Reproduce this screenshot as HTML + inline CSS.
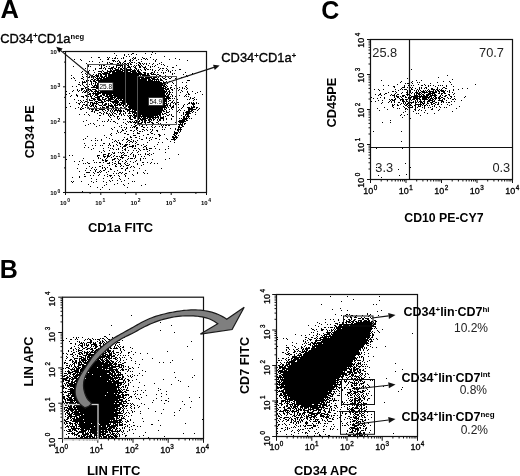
<!DOCTYPE html>
<html><head><meta charset="utf-8"><style>
html,body{margin:0;padding:0;background:#fff;width:520px;height:476px;overflow:hidden}
svg{display:block;font-family:"Liberation Sans", sans-serif;filter:grayscale(1)}
</style></head><body>
<svg width="520" height="476" viewBox="0 0 520 476">
<path d="M152 52.5h1M114 53.5h1M132 53.5h2M145 53.5h1M155 53.5h1M124 54.5h1M128 54.5h1M131 54.5h1M136 54.5h1M151 54.5h1M116 55.5h1M124 55.5h1M126 56.5h1M129 56.5h1M164 56.5h1M91 57.5h1M98 57.5h2M107 57.5h1M109 57.5h1M115 57.5h1M123 57.5h1M133 57.5h1M135 57.5h1M142 57.5h1M150 57.5h1M108 58.5h1M112 58.5h1M114 58.5h2M117 58.5h1M121 58.5h1M123 58.5h1M132 58.5h1M134 58.5h2M143 58.5h2M146 58.5h1M175 58.5h1M74 59.5h1M80 59.5h1M100 59.5h1M107 59.5h2M130 59.5h1M133 59.5h1M138 59.5h1M141 59.5h1M145 59.5h1M147 59.5h1M153 59.5h1M156 59.5h1M169 59.5h1M179 59.5h1M81 60.5h1M112 60.5h3M118 60.5h1M125 60.5h1M129 60.5h2M132 60.5h1M136 60.5h1M155 60.5h1M187 60.5h1M89 61.5h1M92 61.5h1M102 61.5h1M113 61.5h1M115 61.5h1M117 61.5h1M119 61.5h1M124 61.5h2M130 61.5h1M141 61.5h1M155 61.5h1M99 62.5h1M107 62.5h1M109 62.5h1M119 62.5h2M123 62.5h1M129 62.5h1M131 62.5h2M134 62.5h1M138 62.5h2M161 62.5h1M86 63.5h1M107 63.5h1M110 63.5h3M117 63.5h2M120 63.5h1M122 63.5h1M124 63.5h2M127 63.5h2M130 63.5h1M136 63.5h1M139 63.5h2M142 63.5h1M144 63.5h1M146 63.5h1M149 63.5h1M153 63.5h1M159 63.5h1M102 64.5h1M105 64.5h1M109 64.5h1M113 64.5h1M117 64.5h1M124 64.5h1M126 64.5h1M128 64.5h1M130 64.5h2M138 64.5h1M140 64.5h1M143 64.5h1M146 64.5h1M152 64.5h1M157 64.5h1M161 64.5h1M163 64.5h1M88 65.5h1M99 65.5h1M101 65.5h1M103 65.5h2M116 65.5h7M124 65.5h1M127 65.5h2M134 65.5h1M136 65.5h1M138 65.5h2M141 65.5h1M148 65.5h1M155 65.5h1M164 65.5h1M176 65.5h1M73 66.5h1M88 66.5h1M90 66.5h1M101 66.5h1M106 66.5h1M109 66.5h1M113 66.5h1M116 66.5h1M120 66.5h1M122 66.5h1M124 66.5h2M128 66.5h2M131 66.5h1M133 66.5h1M135 66.5h1M139 66.5h2M142 66.5h1M145 66.5h1M150 66.5h1M152 66.5h1M154 66.5h1M167 66.5h1M101 67.5h1M104 67.5h1M111 67.5h3M116 67.5h1M118 67.5h2M122 67.5h1M124 67.5h2M127 67.5h4M134 67.5h2M139 67.5h2M143 67.5h3M150 67.5h1M158 67.5h1M172 67.5h2M85 68.5h1M95 68.5h1M99 68.5h3M103 68.5h1M105 68.5h1M108 68.5h5M114 68.5h2M118 68.5h1M120 68.5h2M123 68.5h4M130 68.5h1M135 68.5h2M144 68.5h1M146 68.5h1M160 68.5h1M162 68.5h2M166 68.5h1M95 69.5h1M105 69.5h1M110 69.5h1M112 69.5h1M115 69.5h4M120 69.5h3M124 69.5h1M126 69.5h6M134 69.5h1M136 69.5h1M138 69.5h1M140 69.5h1M144 69.5h2M147 69.5h2M150 69.5h1M152 69.5h1M159 69.5h1M167 69.5h1M179 69.5h2M411 69.5h1M89 70.5h1M93 70.5h1M102 70.5h1M107 70.5h1M110 70.5h2M113 70.5h8M122 70.5h9M132 70.5h4M137 70.5h2M141 70.5h1M145 70.5h1M152 70.5h1M155 70.5h1M158 70.5h1M162 70.5h1M166 70.5h1M168 70.5h1M172 70.5h1M175 70.5h1M82 71.5h1M88 71.5h1M98 71.5h4M103 71.5h1M107 71.5h8M116 71.5h7M124 71.5h4M130 71.5h6M137 71.5h3M154 71.5h1M168 71.5h1M170 71.5h1M81 72.5h1M87 72.5h2M94 72.5h1M101 72.5h1M104 72.5h4M109 72.5h2M112 72.5h19M132 72.5h5M138 72.5h3M143 72.5h3M151 72.5h2M154 72.5h1M157 72.5h1M161 72.5h1M163 72.5h1M165 72.5h1M170 72.5h1M185 72.5h1M85 73.5h1M98 73.5h3M102 73.5h8M112 73.5h30M144 73.5h2M147 73.5h2M150 73.5h2M153 73.5h1M163 73.5h1M172 73.5h1M174 73.5h1M192 73.5h1M82 74.5h1M86 74.5h1M93 74.5h1M96 74.5h1M98 74.5h1M100 74.5h2M103 74.5h4M108 74.5h38M147 74.5h2M151 74.5h5M157 74.5h2M172 74.5h1M183 74.5h1M71 75.5h1M92 75.5h1M95 75.5h4M100 75.5h2M105 75.5h2M108 75.5h31M140 75.5h1M142 75.5h8M156 75.5h1M159 75.5h2M165 75.5h1M186 75.5h1M447 75.5h1M82 76.5h1M86 76.5h1M89 76.5h1M91 76.5h1M93 76.5h2M96 76.5h3M100 76.5h3M104 76.5h3M108 76.5h36M146 76.5h7M155 76.5h2M159 76.5h3M164 76.5h1M187 76.5h1M73 77.5h1M83 77.5h1M87 77.5h3M91 77.5h1M95 77.5h1M97 77.5h1M99 77.5h1M101 77.5h4M106 77.5h38M145 77.5h7M153 77.5h4M158 77.5h1M162 77.5h1M165 77.5h1M168 77.5h1M171 77.5h1M181 77.5h1M438 77.5h1M71 78.5h1M74 78.5h1M81 78.5h2M93 78.5h1M96 78.5h6M103 78.5h37M141 78.5h9M151 78.5h4M157 78.5h1M160 78.5h1M163 78.5h2M169 78.5h2M175 78.5h2M407 78.5h1M83 79.5h1M87 79.5h1M91 79.5h2M94 79.5h2M97 79.5h2M100 79.5h47M148 79.5h3M152 79.5h7M160 79.5h2M165 79.5h2M452 79.5h1M75 80.5h1M86 80.5h1M88 80.5h1M90 80.5h1M93 80.5h2M96 80.5h51M148 80.5h5M154 80.5h1M156 80.5h1M158 80.5h1M160 80.5h3M176 80.5h1M187 80.5h3M381 80.5h1M409 80.5h1M416 80.5h1M421 80.5h1M82 81.5h1M84 81.5h1M86 81.5h2M90 81.5h2M93 81.5h3M98 81.5h62M163 81.5h1M166 81.5h1M169 81.5h1M401 81.5h1M412 81.5h1M443 81.5h1M449 81.5h1M79 82.5h1M82 82.5h4M91 82.5h1M95 82.5h2M98 82.5h64M163 82.5h3M172 82.5h1M182 82.5h1M186 82.5h1M400 82.5h1M411 82.5h1M417 82.5h1M419 82.5h1M437 82.5h1M450 82.5h1M82 83.5h1M91 83.5h1M93 83.5h1M95 83.5h1M97 83.5h67M167 83.5h1M173 83.5h1M405 83.5h1M407 83.5h2M412 83.5h1M430 83.5h1M78 84.5h2M82 84.5h1M86 84.5h1M89 84.5h1M91 84.5h1M95 84.5h1M97 84.5h66M164 84.5h2M397 84.5h1M418 84.5h1M424 84.5h1M451 84.5h1M475 84.5h1M80 85.5h1M83 85.5h1M92 85.5h1M94 85.5h4M99 85.5h1M101 85.5h64M166 85.5h1M171 85.5h1M175 85.5h1M186 85.5h1M383 85.5h1M388 85.5h1M404 85.5h1M408 85.5h1M411 85.5h1M413 85.5h1M421 85.5h2M425 85.5h1M428 85.5h1M430 85.5h1M433 85.5h1M438 85.5h1M440 85.5h1M442 85.5h1M446 85.5h1M72 86.5h1M76 86.5h1M84 86.5h1M88 86.5h1M93 86.5h2M96 86.5h66M163 86.5h3M167 86.5h1M176 86.5h1M185 86.5h1M393 86.5h2M404 86.5h1M428 86.5h1M435 86.5h1M446 86.5h1M453 86.5h1M85 87.5h2M91 87.5h73M165 87.5h2M170 87.5h2M179 87.5h1M182 87.5h1M186 87.5h1M394 87.5h1M402 87.5h3M407 87.5h1M409 87.5h2M412 87.5h1M419 87.5h1M421 87.5h1M425 87.5h2M437 87.5h1M443 87.5h2M81 88.5h3M85 88.5h1M88 88.5h1M96 88.5h2M99 88.5h67M167 88.5h2M170 88.5h1M174 88.5h1M176 88.5h2M182 88.5h1M184 88.5h1M187 88.5h1M401 88.5h1M411 88.5h1M415 88.5h1M419 88.5h1M421 88.5h1M424 88.5h1M426 88.5h1M431 88.5h2M437 88.5h1M442 88.5h1M445 88.5h2M462 88.5h1M467 88.5h1M77 89.5h1M81 89.5h2M86 89.5h1M88 89.5h3M92 89.5h4M99 89.5h65M165 89.5h4M171 89.5h2M179 89.5h1M186 89.5h1M374 89.5h1M378 89.5h1M383 89.5h1M395 89.5h1M400 89.5h1M402 89.5h1M404 89.5h3M411 89.5h2M417 89.5h1M419 89.5h1M428 89.5h1M431 89.5h4M436 89.5h2M439 89.5h1M441 89.5h1M453 89.5h1M458 89.5h1M73 90.5h1M77 90.5h1M79 90.5h1M81 90.5h1M84 90.5h1M86 90.5h1M88 90.5h1M90 90.5h2M95 90.5h2M99 90.5h1M102 90.5h63M166 90.5h1M169 90.5h1M172 90.5h1M178 90.5h1M181 90.5h1M379 90.5h1M398 90.5h1M407 90.5h1M409 90.5h2M414 90.5h1M416 90.5h1M418 90.5h1M420 90.5h1M423 90.5h1M425 90.5h1M427 90.5h1M429 90.5h1M433 90.5h1M435 90.5h1M437 90.5h2M440 90.5h4M445 90.5h1M449 90.5h1M453 90.5h1M66 91.5h1M72 91.5h1M78 91.5h1M83 91.5h1M85 91.5h3M89 91.5h1M91 91.5h2M94 91.5h5M100 91.5h67M168 91.5h2M182 91.5h1M187 91.5h1M192 91.5h1M200 91.5h1M392 91.5h2M395 91.5h1M407 91.5h1M410 91.5h1M416 91.5h1M418 91.5h1M421 91.5h4M426 91.5h1M428 91.5h6M435 91.5h2M438 91.5h2M441 91.5h4M447 91.5h1M449 91.5h1M82 92.5h1M84 92.5h2M88 92.5h1M93 92.5h1M95 92.5h1M97 92.5h69M167 92.5h1M169 92.5h2M172 92.5h1M176 92.5h1M180 92.5h1M187 92.5h1M197 92.5h1M388 92.5h1M396 92.5h1M402 92.5h1M406 92.5h2M409 92.5h2M412 92.5h1M415 92.5h3M419 92.5h2M422 92.5h6M429 92.5h2M432 92.5h5M439 92.5h1M443 92.5h2M449 92.5h1M452 92.5h1M69 93.5h1M87 93.5h1M89 93.5h2M92 93.5h9M102 93.5h63M166 93.5h2M169 93.5h1M188 93.5h1M195 93.5h1M380 93.5h1M385 93.5h2M395 93.5h1M401 93.5h1M407 93.5h1M409 93.5h1M411 93.5h1M414 93.5h1M416 93.5h4M421 93.5h1M424 93.5h1M428 93.5h7M438 93.5h2M441 93.5h2M444 93.5h2M454 93.5h1M66 94.5h1M76 94.5h1M87 94.5h4M93 94.5h1M95 94.5h4M102 94.5h3M106 94.5h6M113 94.5h52M166 94.5h1M168 94.5h2M171 94.5h1M176 94.5h1M186 94.5h1M188 94.5h2M202 94.5h1M375 94.5h1M379 94.5h2M384 94.5h1M391 94.5h1M394 94.5h1M397 94.5h2M406 94.5h4M414 94.5h1M416 94.5h1M418 94.5h3M422 94.5h2M426 94.5h5M432 94.5h1M434 94.5h2M441 94.5h1M448 94.5h2M453 94.5h1M71 95.5h1M76 95.5h2M85 95.5h2M90 95.5h1M92 95.5h1M95 95.5h3M100 95.5h2M103 95.5h2M106 95.5h2M109 95.5h57M167 95.5h2M172 95.5h1M179 95.5h1M185 95.5h1M378 95.5h1M381 95.5h1M390 95.5h1M392 95.5h3M396 95.5h1M402 95.5h3M407 95.5h1M409 95.5h2M414 95.5h4M419 95.5h1M421 95.5h1M423 95.5h2M426 95.5h3M430 95.5h7M440 95.5h1M442 95.5h1M445 95.5h2M449 95.5h1M70 96.5h1M77 96.5h1M81 96.5h3M86 96.5h1M88 96.5h1M90 96.5h2M94 96.5h1M97 96.5h5M105 96.5h8M114 96.5h55M170 96.5h1M172 96.5h1M175 96.5h1M184 96.5h1M186 96.5h1M188 96.5h1M394 96.5h1M396 96.5h3M400 96.5h1M402 96.5h2M405 96.5h1M409 96.5h1M411 96.5h17M429 96.5h3M434 96.5h2M439 96.5h2M444 96.5h2M450 96.5h2M454 96.5h1M465 96.5h1M83 97.5h1M91 97.5h1M95 97.5h5M102 97.5h2M107 97.5h2M110 97.5h6M117 97.5h48M166 97.5h4M190 97.5h1M194 97.5h1M371 97.5h1M380 97.5h1M384 97.5h1M394 97.5h1M397 97.5h2M401 97.5h1M405 97.5h2M408 97.5h1M410 97.5h2M413 97.5h5M419 97.5h2M422 97.5h8M431 97.5h1M433 97.5h1M435 97.5h2M438 97.5h2M441 97.5h2M447 97.5h1M451 97.5h1M464 97.5h1M91 98.5h4M97 98.5h3M102 98.5h1M105 98.5h2M108 98.5h5M114 98.5h1M116 98.5h55M172 98.5h1M174 98.5h1M190 98.5h1M192 98.5h2M373 98.5h1M377 98.5h1M384 98.5h1M395 98.5h1M399 98.5h1M402 98.5h1M408 98.5h3M413 98.5h7M422 98.5h5M428 98.5h1M430 98.5h3M434 98.5h3M438 98.5h3M443 98.5h2M448 98.5h1M450 98.5h1M454 98.5h1M74 99.5h1M86 99.5h1M89 99.5h1M93 99.5h3M97 99.5h4M102 99.5h4M108 99.5h6M115 99.5h2M118 99.5h1M120 99.5h2M123 99.5h44M168 99.5h1M177 99.5h1M187 99.5h1M189 99.5h1M194 99.5h1M196 99.5h1M389 99.5h1M391 99.5h2M394 99.5h2M400 99.5h4M405 99.5h3M410 99.5h1M412 99.5h3M416 99.5h2M419 99.5h2M422 99.5h6M429 99.5h2M432 99.5h2M435 99.5h1M439 99.5h1M442 99.5h1M444 99.5h1M452 99.5h2M455 99.5h1M78 100.5h1M80 100.5h1M83 100.5h1M89 100.5h4M94 100.5h1M98 100.5h4M104 100.5h1M106 100.5h5M114 100.5h4M119 100.5h48M169 100.5h2M173 100.5h1M193 100.5h1M378 100.5h1M382 100.5h1M390 100.5h1M392 100.5h3M400 100.5h1M402 100.5h2M406 100.5h1M411 100.5h1M415 100.5h1M417 100.5h1M420 100.5h1M424 100.5h1M428 100.5h5M434 100.5h1M438 100.5h5M446 100.5h1M461 100.5h1M81 101.5h1M85 101.5h2M95 101.5h3M101 101.5h2M104 101.5h2M108 101.5h1M110 101.5h9M122 101.5h45M168 101.5h1M172 101.5h1M176 101.5h1M371 101.5h1M375 101.5h1M389 101.5h1M391 101.5h1M394 101.5h1M402 101.5h3M406 101.5h2M409 101.5h1M413 101.5h1M415 101.5h1M417 101.5h1M419 101.5h3M423 101.5h2M427 101.5h3M432 101.5h3M441 101.5h3M451 101.5h1M454 101.5h1M76 102.5h1M80 102.5h1M82 102.5h1M84 102.5h1M88 102.5h1M90 102.5h3M94 102.5h1M96 102.5h1M98 102.5h6M112 102.5h7M120 102.5h45M166 102.5h1M171 102.5h2M174 102.5h1M177 102.5h2M189 102.5h1M191 102.5h1M193 102.5h1M196 102.5h1M382 102.5h1M388 102.5h1M391 102.5h1M394 102.5h1M398 102.5h2M403 102.5h1M405 102.5h1M408 102.5h6M415 102.5h2M418 102.5h1M420 102.5h3M424 102.5h1M427 102.5h1M430 102.5h3M435 102.5h2M438 102.5h1M441 102.5h1M443 102.5h1M446 102.5h1M448 102.5h2M69 103.5h1M78 103.5h2M90 103.5h1M92 103.5h6M102 103.5h1M105 103.5h2M108 103.5h1M110 103.5h1M113 103.5h1M115 103.5h3M119 103.5h1M121 103.5h5M127 103.5h40M168 103.5h1M170 103.5h1M173 103.5h1M175 103.5h1M188 103.5h2M191 103.5h4M196 103.5h1M198 103.5h1M381 103.5h1M401 103.5h1M403 103.5h1M405 103.5h1M407 103.5h3M411 103.5h1M415 103.5h1M420 103.5h1M422 103.5h3M427 103.5h2M431 103.5h1M433 103.5h2M438 103.5h1M79 104.5h1M83 104.5h2M86 104.5h1M90 104.5h1M92 104.5h2M96 104.5h1M98 104.5h1M102 104.5h1M104 104.5h3M108 104.5h1M111 104.5h1M114 104.5h2M117 104.5h5M123 104.5h2M127 104.5h38M166 104.5h2M170 104.5h1M175 104.5h1M178 104.5h1M184 104.5h1M187 104.5h1M192 104.5h3M392 104.5h1M394 104.5h1M397 104.5h1M400 104.5h1M404 104.5h1M406 104.5h2M409 104.5h2M415 104.5h7M423 104.5h1M426 104.5h1M431 104.5h2M435 104.5h1M437 104.5h2M441 104.5h1M447 104.5h1M451 104.5h1M82 105.5h1M85 105.5h3M89 105.5h1M91 105.5h3M95 105.5h1M99 105.5h3M103 105.5h3M108 105.5h5M114 105.5h4M119 105.5h2M122 105.5h2M125 105.5h3M129 105.5h39M169 105.5h2M173 105.5h1M183 105.5h1M193 105.5h1M392 105.5h2M397 105.5h2M405 105.5h2M408 105.5h1M410 105.5h2M414 105.5h2M418 105.5h1M420 105.5h1M422 105.5h1M424 105.5h2M427 105.5h1M429 105.5h1M434 105.5h1M449 105.5h1M70 106.5h1M82 106.5h1M90 106.5h2M93 106.5h1M95 106.5h2M102 106.5h1M106 106.5h3M110 106.5h4M115 106.5h1M123 106.5h1M125 106.5h2M128 106.5h38M167 106.5h1M170 106.5h1M172 106.5h2M183 106.5h1M191 106.5h1M193 106.5h2M392 106.5h1M403 106.5h1M407 106.5h1M412 106.5h1M415 106.5h1M418 106.5h3M424 106.5h1M432 106.5h1M434 106.5h1M439 106.5h1M459 106.5h1M66 107.5h1M78 107.5h1M81 107.5h1M85 107.5h1M87 107.5h2M94 107.5h1M96 107.5h1M100 107.5h1M102 107.5h3M106 107.5h3M112 107.5h2M115 107.5h3M120 107.5h2M124 107.5h1M128 107.5h39M168 107.5h1M171 107.5h3M178 107.5h1M182 107.5h1M187 107.5h3M191 107.5h4M196 107.5h2M384 107.5h1M393 107.5h1M404 107.5h1M408 107.5h1M410 107.5h3M415 107.5h1M417 107.5h1M422 107.5h1M424 107.5h1M428 107.5h1M430 107.5h1M436 107.5h1M440 107.5h1M444 107.5h1M446 107.5h1M75 108.5h1M80 108.5h1M82 108.5h2M89 108.5h1M93 108.5h1M95 108.5h1M97 108.5h3M101 108.5h3M105 108.5h1M111 108.5h2M115 108.5h1M119 108.5h2M124 108.5h3M129 108.5h34M164 108.5h1M166 108.5h1M171 108.5h1M181 108.5h1M188 108.5h5M196 108.5h1M199 108.5h1M377 108.5h1M397 108.5h1M399 108.5h1M405 108.5h2M415 108.5h1M424 108.5h1M432 108.5h1M456 108.5h1M80 109.5h2M89 109.5h1M91 109.5h3M95 109.5h2M99 109.5h6M107 109.5h2M111 109.5h1M113 109.5h1M115 109.5h2M118 109.5h1M120 109.5h1M125 109.5h6M132 109.5h31M164 109.5h2M169 109.5h1M172 109.5h1M179 109.5h1M188 109.5h8M198 109.5h1M387 109.5h1M405 109.5h1M407 109.5h1M409 109.5h1M414 109.5h2M419 109.5h1M431 109.5h2M439 109.5h1M92 110.5h1M95 110.5h4M102 110.5h1M105 110.5h1M108 110.5h1M110 110.5h1M112 110.5h1M114 110.5h8M123 110.5h1M127 110.5h3M132 110.5h1M134 110.5h30M166 110.5h1M178 110.5h1M180 110.5h1M184 110.5h1M188 110.5h2M191 110.5h2M197 110.5h1M379 110.5h1M415 110.5h1M418 110.5h1M421 110.5h1M425 110.5h1M438 110.5h1M91 111.5h2M94 111.5h1M103 111.5h1M107 111.5h1M110 111.5h1M112 111.5h1M114 111.5h1M117 111.5h1M119 111.5h3M123 111.5h2M127 111.5h1M129 111.5h7M137 111.5h25M163 111.5h2M166 111.5h1M169 111.5h1M177 111.5h1M186 111.5h6M193 111.5h1M405 111.5h1M413 111.5h1M452 111.5h1M86 112.5h1M94 112.5h1M99 112.5h2M104 112.5h1M106 112.5h1M111 112.5h1M113 112.5h1M117 112.5h1M120 112.5h1M125 112.5h1M129 112.5h1M132 112.5h30M166 112.5h3M179 112.5h1M183 112.5h1M185 112.5h5M192 112.5h1M195 112.5h1M403 112.5h1M424 112.5h1M97 113.5h1M101 113.5h1M103 113.5h1M106 113.5h2M109 113.5h1M112 113.5h1M114 113.5h2M119 113.5h2M123 113.5h1M125 113.5h1M128 113.5h3M132 113.5h1M134 113.5h27M162 113.5h1M164 113.5h2M183 113.5h1M186 113.5h5M416 113.5h1M418 113.5h1M427 113.5h1M434 113.5h1M79 114.5h1M84 114.5h1M88 114.5h1M103 114.5h1M108 114.5h1M110 114.5h1M112 114.5h1M116 114.5h1M119 114.5h1M121 114.5h1M123 114.5h1M133 114.5h2M136 114.5h25M162 114.5h2M166 114.5h1M169 114.5h1M171 114.5h1M183 114.5h1M185 114.5h4M195 114.5h1M401 114.5h1M407 114.5h1M89 115.5h1M99 115.5h2M108 115.5h1M110 115.5h2M113 115.5h1M121 115.5h1M124 115.5h1M127 115.5h1M129 115.5h3M133 115.5h8M142 115.5h16M159 115.5h2M167 115.5h2M171 115.5h1M181 115.5h1M185 115.5h1M187 115.5h2M400 115.5h1M404 115.5h1M420 115.5h1M109 116.5h1M114 116.5h1M117 116.5h2M128 116.5h1M130 116.5h1M132 116.5h1M134 116.5h3M138 116.5h16M155 116.5h1M157 116.5h2M160 116.5h1M163 116.5h1M165 116.5h1M172 116.5h2M183 116.5h2M186 116.5h4M110 117.5h1M117 117.5h1M129 117.5h2M133 117.5h3M137 117.5h3M141 117.5h1M143 117.5h3M147 117.5h12M160 117.5h4M183 117.5h2M186 117.5h1M188 117.5h1M402 117.5h1M99 118.5h1M117 118.5h1M119 118.5h1M129 118.5h2M134 118.5h2M137 118.5h4M142 118.5h6M149 118.5h2M152 118.5h2M155 118.5h1M158 118.5h1M160 118.5h4M166 118.5h1M171 118.5h1M179 118.5h1M181 118.5h1M183 118.5h5M189 118.5h1M191 118.5h1M410 118.5h1M108 119.5h1M111 119.5h1M118 119.5h1M123 119.5h1M125 119.5h1M130 119.5h3M137 119.5h2M140 119.5h6M148 119.5h4M153 119.5h2M157 119.5h1M159 119.5h2M163 119.5h1M166 119.5h1M171 119.5h1M182 119.5h5M86 120.5h1M97 120.5h1M108 120.5h1M135 120.5h3M139 120.5h1M141 120.5h2M144 120.5h3M148 120.5h2M151 120.5h1M153 120.5h1M157 120.5h1M159 120.5h2M163 120.5h1M179 120.5h6M186 120.5h2M390 120.5h1M83 121.5h1M102 121.5h1M104 121.5h1M107 121.5h1M110 121.5h1M113 121.5h2M127 121.5h1M129 121.5h2M132 121.5h1M134 121.5h1M136 121.5h4M142 121.5h1M144 121.5h2M149 121.5h2M158 121.5h1M176 121.5h1M178 121.5h8M115 122.5h1M123 122.5h1M128 122.5h1M130 122.5h2M133 122.5h6M141 122.5h2M144 122.5h2M147 122.5h3M151 122.5h2M156 122.5h2M166 122.5h1M175 122.5h1M179 122.5h5M382 122.5h1M390 122.5h1M90 123.5h1M93 123.5h1M117 123.5h1M125 123.5h1M135 123.5h1M137 123.5h5M145 123.5h1M152 123.5h2M158 123.5h1M160 123.5h1M180 123.5h1M182 123.5h1M184 123.5h2M88 124.5h1M94 124.5h1M126 124.5h1M134 124.5h1M137 124.5h2M147 124.5h3M152 124.5h1M155 124.5h1M163 124.5h1M165 124.5h1M178 124.5h5M184 124.5h1M85 125.5h1M99 125.5h1M103 125.5h1M121 125.5h1M131 125.5h1M135 125.5h2M139 125.5h1M142 125.5h1M146 125.5h1M152 125.5h1M161 125.5h1M163 125.5h1M165 125.5h2M168 125.5h2M179 125.5h1M181 125.5h2M409 125.5h1M96 126.5h1M119 126.5h1M133 126.5h3M141 126.5h2M151 126.5h1M155 126.5h1M159 126.5h1M162 126.5h1M178 126.5h2M182 126.5h2M114 127.5h1M121 127.5h1M124 127.5h1M126 127.5h1M130 127.5h1M132 127.5h1M134 127.5h1M136 127.5h2M143 127.5h2M147 127.5h1M152 127.5h1M154 127.5h1M162 127.5h1M165 127.5h1M178 127.5h4M111 128.5h1M126 128.5h1M136 128.5h2M170 128.5h1M175 128.5h1M178 128.5h1M180 128.5h1M112 129.5h1M122 129.5h1M125 129.5h1M136 129.5h1M142 129.5h2M146 129.5h1M150 129.5h1M152 129.5h1M162 129.5h1M164 129.5h1M175 129.5h1M177 129.5h5M117 130.5h1M122 130.5h2M130 130.5h2M134 130.5h1M137 130.5h1M144 130.5h1M147 130.5h1M152 130.5h1M156 130.5h2M177 130.5h2M180 130.5h1M117 131.5h1M121 131.5h1M126 131.5h1M133 131.5h1M139 131.5h2M142 131.5h1M151 131.5h1M157 131.5h1M174 131.5h1M178 131.5h1M180 131.5h1M373 131.5h1M401 131.5h1M118 132.5h1M120 132.5h1M137 132.5h1M150 132.5h1M174 132.5h4M179 132.5h1M111 133.5h1M116 133.5h1M124 133.5h2M133 133.5h1M137 133.5h3M151 133.5h2M174 133.5h4M110 134.5h1M127 134.5h2M147 134.5h2M154 134.5h1M158 134.5h2M164 134.5h1M173 134.5h2M176 134.5h1M104 135.5h1M111 135.5h1M133 135.5h3M143 135.5h1M159 135.5h2M174 135.5h2M178 135.5h1M87 136.5h1M130 136.5h1M139 136.5h1M159 136.5h1M172 136.5h2M175 136.5h2M106 137.5h1M124 137.5h1M130 137.5h2M135 137.5h2M146 137.5h1M150 137.5h1M152 137.5h1M172 137.5h6M85 138.5h1M95 138.5h1M109 138.5h1M127 138.5h1M139 138.5h1M146 138.5h1M149 138.5h1M155 138.5h2M166 138.5h1M173 138.5h2M176 138.5h1M83 139.5h1M101 139.5h1M112 139.5h1M123 139.5h1M126 139.5h2M131 139.5h1M141 139.5h2M151 139.5h1M159 139.5h1M167 139.5h1M171 139.5h5M91 140.5h1M95 140.5h1M97 140.5h1M101 140.5h1M115 140.5h1M118 140.5h1M122 140.5h1M128 140.5h2M133 140.5h1M137 140.5h1M149 140.5h1M174 140.5h1M114 141.5h1M116 141.5h1M127 141.5h1M130 141.5h2M133 141.5h1M135 141.5h1M170 141.5h1M401 141.5h1M112 142.5h1M117 142.5h1M119 142.5h1M126 142.5h1M129 142.5h1M132 142.5h1M136 142.5h1M147 142.5h1M158 142.5h1M162 142.5h1M174 142.5h1M84 143.5h1M95 143.5h1M103 143.5h2M109 143.5h1M119 143.5h2M135 143.5h1M109 144.5h1M116 144.5h1M120 144.5h1M122 144.5h1M125 144.5h3M129 144.5h1M137 144.5h2M143 144.5h1M157 144.5h1M85 145.5h1M92 145.5h1M95 145.5h1M100 145.5h1M102 145.5h1M108 145.5h1M110 145.5h1M113 145.5h1M117 145.5h1M124 145.5h3M132 145.5h2M135 145.5h1M141 145.5h1M146 145.5h1M113 146.5h1M120 146.5h1M123 146.5h3M129 146.5h5M135 146.5h1M144 146.5h2M154 146.5h1M168 146.5h1M84 147.5h1M88 147.5h1M108 147.5h1M122 147.5h1M127 147.5h1M132 147.5h1M143 147.5h1M146 147.5h1M391 147.5h1M93 148.5h1M103 148.5h1M110 148.5h1M112 148.5h1M118 148.5h1M122 148.5h1M125 148.5h1M134 148.5h2M138 148.5h1M146 148.5h1M149 148.5h3M155 148.5h1M168 148.5h1M376 148.5h1M402 148.5h1M91 149.5h1M113 149.5h1M116 149.5h1M118 149.5h1M124 149.5h2M139 149.5h1M143 149.5h2M146 149.5h2M159 149.5h1M165 149.5h1M103 150.5h1M109 150.5h1M122 150.5h1M125 150.5h1M128 150.5h1M133 150.5h1M136 150.5h1M140 150.5h1M149 150.5h1M99 151.5h1M104 151.5h1M138 151.5h1M147 151.5h1M101 152.5h1M112 152.5h1M114 152.5h1M118 152.5h1M120 152.5h1M122 152.5h2M127 152.5h1M132 152.5h1M137 152.5h1M165 152.5h1M108 153.5h2M113 153.5h2M121 153.5h1M124 153.5h1M131 153.5h1M145 153.5h1M149 153.5h1M153 153.5h1M103 154.5h3M108 154.5h1M111 154.5h1M123 154.5h1M130 154.5h1M133 154.5h1M138 154.5h1M140 154.5h1M145 154.5h1M147 154.5h2M151 154.5h1M178 154.5h1M69 155.5h1M72 155.5h1M97 155.5h3M103 155.5h1M107 155.5h2M110 155.5h1M114 155.5h1M121 155.5h2M124 155.5h3M133 155.5h1M135 155.5h1M149 155.5h1M97 156.5h1M103 156.5h3M107 156.5h3M113 156.5h1M116 156.5h2M119 156.5h1M121 156.5h1M128 156.5h1M133 156.5h1M135 156.5h1M141 156.5h1M144 156.5h1M98 157.5h1M104 157.5h1M107 157.5h1M111 157.5h1M120 157.5h4M135 157.5h1M83 158.5h1M98 158.5h1M100 158.5h1M106 158.5h1M114 158.5h2M117 158.5h1M122 158.5h1M128 158.5h1M130 158.5h3M134 158.5h1M140 158.5h1M143 158.5h1M145 158.5h1M169 158.5h1M66 159.5h1M102 159.5h1M105 159.5h1M112 159.5h3M118 159.5h1M120 159.5h1M127 159.5h1M140 159.5h1M152 159.5h1M165 159.5h1M82 160.5h1M93 160.5h1M102 160.5h2M105 160.5h3M112 160.5h1M119 160.5h1M125 160.5h1M136 160.5h1M140 160.5h1M74 161.5h1M79 161.5h1M105 161.5h2M115 161.5h1M118 161.5h1M122 161.5h1M126 161.5h1M130 161.5h1M135 161.5h1M87 162.5h1M94 162.5h1M96 162.5h1M99 162.5h2M103 162.5h1M109 162.5h1M112 162.5h1M118 162.5h1M125 162.5h1M133 162.5h1M142 162.5h2M147 162.5h1M151 162.5h1M83 163.5h1M85 163.5h1M88 163.5h2M107 163.5h3M114 163.5h2M118 163.5h3M124 163.5h1M127 163.5h1M137 163.5h1M150 163.5h1M154 163.5h1M157 163.5h1M405 163.5h1M78 164.5h1M112 164.5h1M116 164.5h1M120 164.5h1M125 164.5h1M129 164.5h1M137 164.5h1M143 164.5h1M102 165.5h1M109 165.5h1M115 165.5h1M121 165.5h1M126 165.5h3M141 165.5h1M89 166.5h1M99 166.5h2M115 166.5h2M120 166.5h1M123 166.5h1M131 166.5h1M133 166.5h1M92 167.5h1M95 167.5h1M102 167.5h1M104 167.5h1M107 167.5h1M127 167.5h1M130 167.5h1M134 167.5h1M376 167.5h1M410 167.5h1M77 168.5h1M86 168.5h1M91 168.5h1M102 168.5h1M105 168.5h1M110 168.5h1M121 168.5h2M126 168.5h2M139 168.5h1M161 168.5h1M94 169.5h1M96 169.5h1M105 169.5h1M110 169.5h2M125 169.5h1M398 169.5h1M85 170.5h1M90 170.5h1M95 170.5h1M100 170.5h1M103 170.5h2M117 170.5h1M125 170.5h1M133 170.5h1M145 170.5h1M79 171.5h1M95 171.5h1M99 171.5h1M101 171.5h1M108 171.5h1M114 171.5h1M129 171.5h1M86 172.5h4M93 172.5h1M97 172.5h2M100 172.5h1M106 172.5h1M119 172.5h2M122 172.5h1M137 172.5h1M143 172.5h1M94 173.5h1M113 173.5h1M116 173.5h1M118 173.5h1M121 173.5h1M125 173.5h2M137 173.5h1M144 173.5h1M147 173.5h1M84 174.5h1M99 174.5h1M107 174.5h1M124 174.5h1M132 174.5h1M406 174.5h1M90 175.5h1M93 175.5h1M98 175.5h1M104 175.5h1M109 175.5h3M114 175.5h1M118 175.5h1M125 175.5h1M133 175.5h1M378 175.5h1M399 175.5h1M79 176.5h1M84 176.5h2M107 176.5h1M110 176.5h1M119 176.5h1M125 176.5h1M72 177.5h1M79 177.5h1M112 177.5h1M381 177.5h1M91 178.5h1M103 178.5h1M111 178.5h1M119 178.5h1M128 178.5h1M96 179.5h1M120 179.5h1M109 180.5h1M112 180.5h1M117 180.5h1M124 180.5h1M71 181.5h1M73 181.5h1M81 181.5h1M91 181.5h1M96 181.5h1M103 181.5h1M110 181.5h1M121 181.5h1M132 181.5h1M134 181.5h1M72 182.5h1M93 182.5h1M106 182.5h1M117 183.5h1M128 183.5h1M88 184.5h1M106 184.5h1M114 184.5h1M123 184.5h1M145 184.5h1M104 185.5h1M124 185.5h1M141 185.5h1M90 186.5h1M97 187.5h1M102 187.5h1M127 187.5h1M100 189.5h1M109 189.5h1M82 191.5h1M330 296.5h1M347 296.5h1M379 296.5h1M353 299.5h1M379 300.5h1M341 301.5h1M321 304.5h1M373 304.5h1M376 304.5h1M340 308.5h1M332 309.5h1M341 310.5h1M347 310.5h1M381 310.5h1M377 311.5h1M171 312.5h1M367 313.5h1M335 314.5h1M346 314.5h2M349 314.5h1M367 314.5h1M370 314.5h1M131 315.5h1M341 315.5h1M345 315.5h1M351 315.5h2M356 315.5h1M362 315.5h1M369 315.5h1M378 315.5h1M346 316.5h1M350 316.5h1M355 316.5h1M368 316.5h1M347 317.5h1M350 317.5h2M354 317.5h3M361 317.5h1M364 317.5h1M370 317.5h1M376 317.5h1M351 318.5h1M358 318.5h3M362 318.5h2M365 318.5h4M371 318.5h1M325 319.5h1M330 319.5h1M333 319.5h1M338 319.5h1M344 319.5h1M348 319.5h2M351 319.5h1M354 319.5h2M362 319.5h2M367 319.5h2M338 320.5h1M346 320.5h1M349 320.5h2M353 320.5h2M358 320.5h4M364 320.5h3M368 320.5h2M374 320.5h2M334 321.5h1M346 321.5h4M351 321.5h3M355 321.5h2M358 321.5h1M360 321.5h2M363 321.5h7M371 321.5h2M375 321.5h2M160 322.5h1M317 322.5h1M325 322.5h1M339 322.5h1M342 322.5h1M345 322.5h2M348 322.5h3M352 322.5h2M356 322.5h16M373 322.5h1M375 322.5h1M319 323.5h1M335 323.5h3M342 323.5h2M346 323.5h1M351 323.5h2M354 323.5h19M374 323.5h2M321 324.5h1M327 324.5h1M330 324.5h1M337 324.5h1M339 324.5h33M373 324.5h3M111 325.5h1M171 325.5h1M308 325.5h1M315 325.5h1M334 325.5h2M339 325.5h3M343 325.5h6M350 325.5h24M318 326.5h1M335 326.5h2M338 326.5h38M324 327.5h2M328 327.5h1M330 327.5h3M334 327.5h1M336 327.5h36M375 327.5h1M311 328.5h1M321 328.5h1M334 328.5h1M336 328.5h5M342 328.5h31M374 328.5h1M376 328.5h1M312 329.5h2M316 329.5h1M321 329.5h3M326 329.5h1M331 329.5h1M333 329.5h1M335 329.5h1M337 329.5h35M382 329.5h1M160 330.5h1M314 330.5h1M321 330.5h2M327 330.5h1M329 330.5h1M331 330.5h2M334 330.5h1M336 330.5h35M377 330.5h1M317 331.5h1M327 331.5h1M331 331.5h1M334 331.5h37M372 331.5h1M378 331.5h1M174 332.5h1M311 332.5h1M313 332.5h1M326 332.5h5M332 332.5h38M371 332.5h1M374 332.5h1M379 332.5h1M317 333.5h1M323 333.5h1M327 333.5h3M331 333.5h1M333 333.5h38M372 333.5h1M412 333.5h1M109 334.5h1M295 334.5h1M309 334.5h1M317 334.5h1M319 334.5h1M324 334.5h6M331 334.5h39M372 334.5h2M301 335.5h1M305 335.5h1M313 335.5h1M316 335.5h1M321 335.5h1M323 335.5h2M326 335.5h1M329 335.5h2M332 335.5h39M372 335.5h2M104 336.5h2M317 336.5h1M322 336.5h1M324 336.5h46M372 336.5h1M73 337.5h1M76 337.5h1M78 337.5h1M82 337.5h1M106 337.5h1M112 337.5h1M124 337.5h1M277 337.5h1M305 337.5h2M311 337.5h2M316 337.5h1M320 337.5h7M328 337.5h1M330 337.5h40M371 337.5h2M66 338.5h1M76 338.5h1M88 338.5h1M92 338.5h1M100 338.5h1M102 338.5h2M107 338.5h1M283 338.5h1M286 338.5h1M308 338.5h1M314 338.5h2M317 338.5h1M319 338.5h2M323 338.5h43M367 338.5h2M370 338.5h1M376 338.5h1M70 339.5h2M75 339.5h1M77 339.5h1M85 339.5h1M87 339.5h1M89 339.5h2M93 339.5h1M95 339.5h1M97 339.5h3M104 339.5h1M108 339.5h2M111 339.5h2M114 339.5h2M117 339.5h1M277 339.5h1M287 339.5h1M305 339.5h1M309 339.5h3M316 339.5h1M320 339.5h48M369 339.5h3M373 339.5h1M377 339.5h1M63 340.5h1M84 340.5h1M90 340.5h2M99 340.5h1M102 340.5h1M105 340.5h1M115 340.5h1M119 340.5h1M122 340.5h1M303 340.5h1M307 340.5h1M310 340.5h1M315 340.5h6M322 340.5h47M371 340.5h1M69 341.5h1M77 341.5h1M79 341.5h1M90 341.5h2M97 341.5h1M100 341.5h1M102 341.5h2M106 341.5h1M111 341.5h1M113 341.5h1M116 341.5h1M191 341.5h1M303 341.5h1M305 341.5h1M315 341.5h2M321 341.5h46M368 341.5h1M370 341.5h3M79 342.5h1M81 342.5h1M83 342.5h1M87 342.5h5M93 342.5h1M95 342.5h1M99 342.5h2M102 342.5h1M104 342.5h1M109 342.5h2M112 342.5h3M117 342.5h3M292 342.5h1M305 342.5h1M308 342.5h1M311 342.5h2M314 342.5h2M317 342.5h51M370 342.5h1M70 343.5h2M75 343.5h1M80 343.5h3M84 343.5h1M86 343.5h1M90 343.5h1M93 343.5h3M99 343.5h3M103 343.5h1M105 343.5h1M108 343.5h1M116 343.5h1M296 343.5h1M304 343.5h1M306 343.5h1M310 343.5h1M312 343.5h10M323 343.5h46M75 344.5h1M79 344.5h1M82 344.5h1M84 344.5h1M86 344.5h1M88 344.5h1M91 344.5h6M100 344.5h1M103 344.5h1M108 344.5h1M111 344.5h1M115 344.5h1M119 344.5h1M302 344.5h1M308 344.5h3M313 344.5h2M316 344.5h1M318 344.5h47M366 344.5h1M370 344.5h1M78 345.5h1M80 345.5h3M84 345.5h1M86 345.5h3M91 345.5h1M94 345.5h3M99 345.5h2M103 345.5h1M105 345.5h1M110 345.5h1M115 345.5h1M117 345.5h1M286 345.5h1M292 345.5h1M305 345.5h1M310 345.5h1M312 345.5h1M314 345.5h50M367 345.5h2M74 346.5h1M81 346.5h2M87 346.5h1M91 346.5h1M93 346.5h1M95 346.5h3M100 346.5h3M104 346.5h1M106 346.5h1M114 346.5h1M118 346.5h1M120 346.5h1M123 346.5h1M187 346.5h1M277 346.5h1M294 346.5h1M301 346.5h1M304 346.5h1M312 346.5h52M370 346.5h1M385 346.5h1M71 347.5h1M78 347.5h1M82 347.5h1M85 347.5h2M90 347.5h1M95 347.5h2M100 347.5h1M103 347.5h2M107 347.5h1M109 347.5h2M114 347.5h1M116 347.5h1M119 347.5h1M122 347.5h2M130 347.5h1M286 347.5h3M295 347.5h1M301 347.5h2M306 347.5h1M308 347.5h2M312 347.5h3M316 347.5h47M364 347.5h1M366 347.5h1M372 347.5h1M376 347.5h1M70 348.5h2M75 348.5h1M79 348.5h1M83 348.5h2M87 348.5h3M91 348.5h2M94 348.5h2M98 348.5h1M100 348.5h3M105 348.5h1M108 348.5h1M110 348.5h2M113 348.5h5M120 348.5h1M132 348.5h1M288 348.5h1M298 348.5h1M301 348.5h1M303 348.5h1M305 348.5h5M311 348.5h50M362 348.5h1M364 348.5h1M366 348.5h1M73 349.5h1M76 349.5h1M78 349.5h1M82 349.5h1M86 349.5h2M90 349.5h3M96 349.5h3M100 349.5h2M104 349.5h5M120 349.5h1M123 349.5h1M286 349.5h1M289 349.5h1M293 349.5h1M296 349.5h2M302 349.5h2M305 349.5h3M311 349.5h50M363 349.5h1M368 349.5h1M68 350.5h1M73 350.5h1M78 350.5h4M92 350.5h2M95 350.5h3M100 350.5h3M104 350.5h2M107 350.5h4M113 350.5h1M120 350.5h1M124 350.5h1M286 350.5h1M294 350.5h1M298 350.5h1M302 350.5h1M304 350.5h1M306 350.5h2M309 350.5h50M360 350.5h1M363 350.5h1M367 350.5h1M68 351.5h1M71 351.5h1M76 351.5h1M78 351.5h1M82 351.5h1M84 351.5h1M87 351.5h1M89 351.5h1M91 351.5h2M94 351.5h2M97 351.5h6M105 351.5h1M107 351.5h4M112 351.5h2M121 351.5h1M131 351.5h1M167 351.5h1M288 351.5h1M294 351.5h2M297 351.5h1M299 351.5h2M302 351.5h5M308 351.5h51M73 352.5h2M79 352.5h3M84 352.5h5M90 352.5h13M105 352.5h2M108 352.5h2M111 352.5h1M113 352.5h1M116 352.5h3M121 352.5h1M128 352.5h2M135 352.5h1M282 352.5h2M287 352.5h1M293 352.5h2M301 352.5h3M305 352.5h55M361 352.5h1M364 352.5h1M63 353.5h1M66 353.5h1M72 353.5h1M78 353.5h2M81 353.5h2M84 353.5h1M86 353.5h2M89 353.5h2M94 353.5h6M102 353.5h4M109 353.5h3M113 353.5h2M120 353.5h1M128 353.5h1M140 353.5h1M147 353.5h1M285 353.5h1M288 353.5h2M296 353.5h1M299 353.5h2M304 353.5h56M361 353.5h1M368 353.5h1M67 354.5h1M70 354.5h3M75 354.5h1M79 354.5h2M82 354.5h1M86 354.5h13M100 354.5h4M105 354.5h3M109 354.5h3M115 354.5h1M118 354.5h1M133 354.5h1M286 354.5h3M290 354.5h2M294 354.5h1M298 354.5h1M300 354.5h2M303 354.5h58M364 354.5h1M73 355.5h1M77 355.5h1M83 355.5h4M88 355.5h12M102 355.5h4M107 355.5h5M113 355.5h2M117 355.5h1M120 355.5h1M123 355.5h1M125 355.5h1M128 355.5h1M289 355.5h1M294 355.5h1M297 355.5h5M303 355.5h53M358 355.5h1M66 356.5h1M72 356.5h1M77 356.5h1M79 356.5h3M85 356.5h1M87 356.5h3M91 356.5h1M96 356.5h14M111 356.5h4M292 356.5h5M299 356.5h1M301 356.5h54M359 356.5h1M361 356.5h2M368 356.5h1M373 356.5h1M67 357.5h1M73 357.5h1M81 357.5h3M85 357.5h1M87 357.5h5M93 357.5h5M99 357.5h6M106 357.5h4M111 357.5h1M115 357.5h2M119 357.5h1M122 357.5h1M124 357.5h1M130 357.5h1M288 357.5h1M292 357.5h64M357 357.5h1M359 357.5h1M361 357.5h1M363 357.5h1M66 358.5h1M74 358.5h4M79 358.5h3M83 358.5h3M87 358.5h1M89 358.5h2M93 358.5h8M102 358.5h1M105 358.5h2M108 358.5h4M113 358.5h3M117 358.5h1M120 358.5h1M131 358.5h1M152 358.5h1M278 358.5h1M282 358.5h2M286 358.5h1M291 358.5h2M294 358.5h5M300 358.5h57M363 358.5h1M70 359.5h2M74 359.5h1M79 359.5h1M81 359.5h5M87 359.5h8M96 359.5h3M100 359.5h3M104 359.5h1M106 359.5h2M109 359.5h1M115 359.5h2M120 359.5h1M126 359.5h1M142 359.5h1M192 359.5h1M285 359.5h1M288 359.5h2M291 359.5h1M293 359.5h62M356 359.5h1M363 359.5h1M65 360.5h1M69 360.5h2M72 360.5h1M75 360.5h2M79 360.5h1M81 360.5h6M88 360.5h8M97 360.5h3M101 360.5h3M105 360.5h4M110 360.5h2M117 360.5h1M120 360.5h1M123 360.5h1M131 360.5h1M172 360.5h1M278 360.5h2M281 360.5h1M286 360.5h1M288 360.5h1M291 360.5h5M297 360.5h56M354 360.5h2M357 360.5h4M363 360.5h1M369 360.5h1M72 361.5h2M75 361.5h2M79 361.5h2M82 361.5h2M85 361.5h1M87 361.5h5M94 361.5h7M102 361.5h3M106 361.5h4M111 361.5h3M116 361.5h1M119 361.5h1M135 361.5h1M287 361.5h1M289 361.5h6M297 361.5h56M354 361.5h1M362 361.5h1M367 361.5h1M64 362.5h2M72 362.5h1M74 362.5h3M78 362.5h4M83 362.5h21M105 362.5h6M112 362.5h2M115 362.5h1M118 362.5h1M120 362.5h1M124 362.5h2M159 362.5h1M163 362.5h1M170 362.5h1M277 362.5h1M280 362.5h1M284 362.5h1M286 362.5h66M355 362.5h1M358 362.5h1M360 362.5h1M364 362.5h1M64 363.5h1M66 363.5h2M73 363.5h2M76 363.5h1M78 363.5h2M81 363.5h1M84 363.5h24M109 363.5h4M114 363.5h3M122 363.5h2M135 363.5h1M281 363.5h1M286 363.5h1M288 363.5h2M291 363.5h62M354 363.5h1M357 363.5h4M395 363.5h1M70 364.5h1M72 364.5h1M74 364.5h1M78 364.5h6M86 364.5h26M113 364.5h4M118 364.5h4M139 364.5h1M280 364.5h1M282 364.5h2M286 364.5h4M291 364.5h64M356 364.5h1M358 364.5h1M360 364.5h1M362 364.5h1M364 364.5h1M366 364.5h1M66 365.5h2M69 365.5h1M71 365.5h1M74 365.5h1M78 365.5h3M82 365.5h20M103 365.5h10M115 365.5h1M118 365.5h2M121 365.5h3M278 365.5h2M282 365.5h2M285 365.5h3M289 365.5h63M353 365.5h1M356 365.5h2M361 365.5h1M69 366.5h1M71 366.5h1M74 366.5h2M77 366.5h2M82 366.5h28M111 366.5h9M121 366.5h1M123 366.5h1M125 366.5h1M128 366.5h1M279 366.5h4M284 366.5h2M287 366.5h66M354 366.5h1M356 366.5h1M358 366.5h3M362 366.5h2M365 366.5h1M367 366.5h1M66 367.5h3M73 367.5h1M75 367.5h2M78 367.5h3M82 367.5h4M87 367.5h10M98 367.5h10M109 367.5h7M119 367.5h3M123 367.5h1M128 367.5h1M132 367.5h1M138 367.5h1M277 367.5h1M279 367.5h7M288 367.5h59M348 367.5h1M350 367.5h1M353 367.5h3M359 367.5h1M369 367.5h1M63 368.5h1M65 368.5h1M68 368.5h2M72 368.5h1M74 368.5h1M76 368.5h4M81 368.5h4M86 368.5h16M103 368.5h10M116 368.5h1M118 368.5h1M122 368.5h1M129 368.5h2M133 368.5h1M279 368.5h2M282 368.5h68M351 368.5h1M353 368.5h2M356 368.5h3M365 368.5h1M70 369.5h5M76 369.5h3M80 369.5h6M87 369.5h18M106 369.5h1M109 369.5h9M121 369.5h3M125 369.5h2M128 369.5h1M278 369.5h1M282 369.5h3M286 369.5h61M349 369.5h3M353 369.5h5M359 369.5h2M363 369.5h1M402 369.5h1M68 370.5h1M71 370.5h1M74 370.5h5M80 370.5h4M85 370.5h29M115 370.5h3M120 370.5h1M122 370.5h2M128 370.5h1M142 370.5h1M277 370.5h1M279 370.5h4M284 370.5h3M288 370.5h59M350 370.5h2M353 370.5h3M357 370.5h1M359 370.5h2M362 370.5h2M65 371.5h1M67 371.5h3M72 371.5h7M80 371.5h30M111 371.5h4M116 371.5h3M127 371.5h1M130 371.5h1M132 371.5h1M145 371.5h1M278 371.5h65M344 371.5h1M347 371.5h5M353 371.5h2M357 371.5h2M360 371.5h1M364 371.5h2M395 371.5h1M68 372.5h5M75 372.5h6M82 372.5h6M89 372.5h22M112 372.5h3M116 372.5h5M174 372.5h1M278 372.5h1M280 372.5h65M347 372.5h6M354 372.5h3M358 372.5h3M64 373.5h3M68 373.5h3M73 373.5h3M77 373.5h1M79 373.5h28M109 373.5h4M114 373.5h2M118 373.5h1M120 373.5h1M125 373.5h1M139 373.5h1M279 373.5h2M283 373.5h64M349 373.5h2M352 373.5h1M354 373.5h3M359 373.5h1M361 373.5h2M365 373.5h1M367 373.5h1M67 374.5h1M70 374.5h1M72 374.5h3M76 374.5h10M87 374.5h5M93 374.5h20M114 374.5h2M117 374.5h6M132 374.5h1M277 374.5h1M281 374.5h66M348 374.5h2M351 374.5h3M360 374.5h1M362 374.5h1M365 374.5h1M368 374.5h1M64 375.5h3M69 375.5h1M73 375.5h1M75 375.5h35M111 375.5h10M122 375.5h1M127 375.5h1M130 375.5h1M134 375.5h1M137 375.5h1M142 375.5h1M194 375.5h1M279 375.5h2M282 375.5h59M342 375.5h2M345 375.5h3M351 375.5h3M355 375.5h1M359 375.5h1M361 375.5h1M364 375.5h1M63 376.5h2M67 376.5h1M69 376.5h2M73 376.5h5M79 376.5h21M101 376.5h10M112 376.5h3M116 376.5h1M118 376.5h1M122 376.5h2M128 376.5h1M130 376.5h1M132 376.5h1M277 376.5h1M279 376.5h3M283 376.5h61M349 376.5h2M352 376.5h1M354 376.5h5M360 376.5h1M365 376.5h1M66 377.5h3M71 377.5h2M74 377.5h3M78 377.5h4M84 377.5h29M114 377.5h7M122 377.5h2M131 377.5h1M175 377.5h1M192 377.5h1M277 377.5h63M341 377.5h2M346 377.5h1M348 377.5h1M351 377.5h1M356 377.5h1M358 377.5h2M361 377.5h1M364 377.5h1M369 377.5h1M63 378.5h5M69 378.5h2M72 378.5h6M80 378.5h5M86 378.5h32M119 378.5h1M121 378.5h2M125 378.5h1M278 378.5h1M280 378.5h1M282 378.5h1M284 378.5h55M342 378.5h1M347 378.5h1M351 378.5h2M354 378.5h2M357 378.5h1M359 378.5h1M361 378.5h3M386 378.5h1M63 379.5h4M69 379.5h1M71 379.5h3M76 379.5h3M80 379.5h29M110 379.5h4M115 379.5h1M118 379.5h5M124 379.5h1M127 379.5h2M136 379.5h1M163 379.5h1M277 379.5h2M280 379.5h56M337 379.5h4M345 379.5h1M352 379.5h4M358 379.5h3M63 380.5h1M65 380.5h5M72 380.5h1M75 380.5h8M84 380.5h27M112 380.5h3M116 380.5h3M123 380.5h2M128 380.5h2M132 380.5h1M178 380.5h1M279 380.5h1M281 380.5h58M341 380.5h1M344 380.5h1M346 380.5h1M353 380.5h1M355 380.5h3M359 380.5h3M370 380.5h1M372 380.5h1M63 381.5h1M68 381.5h2M71 381.5h2M74 381.5h6M81 381.5h26M108 381.5h11M123 381.5h1M125 381.5h1M128 381.5h1M180 381.5h1M277 381.5h3M281 381.5h1M283 381.5h53M337 381.5h1M339 381.5h2M344 381.5h3M349 381.5h1M354 381.5h1M358 381.5h1M360 381.5h1M362 381.5h1M364 381.5h1M66 382.5h3M71 382.5h4M76 382.5h1M79 382.5h1M81 382.5h31M113 382.5h11M125 382.5h1M130 382.5h1M139 382.5h1M278 382.5h3M282 382.5h57M340 382.5h1M345 382.5h1M348 382.5h1M350 382.5h3M354 382.5h1M356 382.5h1M358 382.5h1M363 382.5h2M64 383.5h1M66 383.5h1M68 383.5h5M74 383.5h48M124 383.5h1M128 383.5h1M154 383.5h1M277 383.5h1M279 383.5h1M281 383.5h55M337 383.5h1M340 383.5h1M348 383.5h1M352 383.5h6M360 383.5h4M65 384.5h1M67 384.5h1M69 384.5h10M80 384.5h36M117 384.5h2M120 384.5h2M123 384.5h1M128 384.5h1M171 384.5h1M277 384.5h64M347 384.5h1M351 384.5h1M354 384.5h1M356 384.5h1M359 384.5h1M361 384.5h1M367 384.5h1M63 385.5h1M65 385.5h1M67 385.5h10M78 385.5h38M117 385.5h4M125 385.5h2M128 385.5h1M144 385.5h1M279 385.5h1M281 385.5h3M285 385.5h48M334 385.5h3M339 385.5h1M346 385.5h1M351 385.5h2M354 385.5h3M359 385.5h1M363 385.5h1M368 385.5h1M63 386.5h1M67 386.5h2M70 386.5h49M122 386.5h2M125 386.5h1M133 386.5h1M188 386.5h1M277 386.5h1M280 386.5h58M351 386.5h2M362 386.5h2M365 386.5h1M369 386.5h1M383 386.5h1M63 387.5h2M69 387.5h1M73 387.5h4M78 387.5h1M80 387.5h40M121 387.5h1M123 387.5h1M125 387.5h1M127 387.5h1M138 387.5h1M277 387.5h58M336 387.5h1M338 387.5h3M344 387.5h2M348 387.5h1M353 387.5h2M356 387.5h2M359 387.5h1M361 387.5h1M363 387.5h1M402 387.5h1M63 388.5h1M65 388.5h2M70 388.5h3M74 388.5h1M76 388.5h41M118 388.5h1M120 388.5h1M127 388.5h1M158 388.5h1M277 388.5h2M280 388.5h2M284 388.5h50M336 388.5h1M339 388.5h1M344 388.5h1M352 388.5h5M358 388.5h1M360 388.5h1M363 388.5h1M366 388.5h1M68 389.5h49M118 389.5h2M121 389.5h1M123 389.5h2M126 389.5h1M160 389.5h1M283 389.5h53M337 389.5h1M342 389.5h1M347 389.5h1M349 389.5h2M354 389.5h1M356 389.5h3M367 389.5h1M401 389.5h1M70 390.5h51M122 390.5h1M126 390.5h3M137 390.5h1M141 390.5h1M145 390.5h1M158 390.5h1M277 390.5h1M279 390.5h1M281 390.5h3M285 390.5h47M338 390.5h1M342 390.5h1M350 390.5h1M352 390.5h1M357 390.5h1M362 390.5h2M365 390.5h1M63 391.5h1M65 391.5h1M67 391.5h51M119 391.5h3M124 391.5h2M133 391.5h1M135 391.5h1M166 391.5h1M278 391.5h6M285 391.5h43M329 391.5h3M333 391.5h2M336 391.5h1M339 391.5h1M350 391.5h2M353 391.5h3M357 391.5h4M362 391.5h3M369 391.5h1M398 391.5h1M64 392.5h3M70 392.5h37M108 392.5h16M125 392.5h2M143 392.5h1M277 392.5h1M282 392.5h49M334 392.5h1M347 392.5h4M354 392.5h4M360 392.5h3M68 393.5h46M115 393.5h2M118 393.5h2M122 393.5h1M135 393.5h1M161 393.5h1M280 393.5h2M283 393.5h49M333 393.5h1M335 393.5h1M339 393.5h1M348 393.5h2M351 393.5h1M353 393.5h3M358 393.5h1M363 393.5h1M366 393.5h1M368 393.5h1M63 394.5h1M68 394.5h1M70 394.5h1M72 394.5h47M121 394.5h3M125 394.5h4M134 394.5h1M137 394.5h1M140 394.5h1M156 394.5h1M166 394.5h1M277 394.5h1M280 394.5h2M283 394.5h3M287 394.5h42M331 394.5h3M345 394.5h1M347 394.5h1M350 394.5h1M352 394.5h1M355 394.5h1M357 394.5h1M359 394.5h1M362 394.5h1M366 394.5h1M66 395.5h4M71 395.5h34M106 395.5h10M117 395.5h4M122 395.5h5M128 395.5h1M146 395.5h1M279 395.5h4M284 395.5h43M328 395.5h3M332 395.5h1M337 395.5h3M347 395.5h1M350 395.5h2M354 395.5h1M356 395.5h1M358 395.5h1M361 395.5h1M363 395.5h1M367 395.5h1M371 395.5h1M63 396.5h2M67 396.5h2M71 396.5h50M122 396.5h2M130 396.5h2M135 396.5h1M161 396.5h1M279 396.5h1M283 396.5h4M288 396.5h40M330 396.5h3M348 396.5h1M354 396.5h1M357 396.5h1M359 396.5h1M361 396.5h1M363 396.5h1M365 396.5h1M63 397.5h2M68 397.5h4M74 397.5h6M81 397.5h43M125 397.5h1M129 397.5h1M131 397.5h1M141 397.5h1M189 397.5h1M199 397.5h1M280 397.5h1M283 397.5h1M285 397.5h2M288 397.5h1M290 397.5h40M350 397.5h3M355 397.5h1M358 397.5h2M362 397.5h1M364 397.5h1M63 398.5h2M66 398.5h2M69 398.5h3M73 398.5h47M123 398.5h2M128 398.5h1M136 398.5h1M138 398.5h1M156 398.5h1M168 398.5h1M277 398.5h1M281 398.5h1M284 398.5h3M288 398.5h36M325 398.5h1M327 398.5h1M329 398.5h2M332 398.5h1M334 398.5h1M341 398.5h1M348 398.5h1M354 398.5h4M359 398.5h2M363 398.5h2M368 398.5h2M64 399.5h2M67 399.5h6M74 399.5h44M119 399.5h4M126 399.5h1M139 399.5h1M285 399.5h40M326 399.5h3M332 399.5h1M334 399.5h1M350 399.5h1M352 399.5h1M354 399.5h2M358 399.5h3M364 399.5h1M367 399.5h1M65 400.5h1M67 400.5h56M125 400.5h1M128 400.5h2M153 400.5h1M161 400.5h1M165 400.5h2M277 400.5h1M281 400.5h5M287 400.5h1M289 400.5h4M294 400.5h33M329 400.5h3M333 400.5h4M338 400.5h1M346 400.5h1M349 400.5h1M351 400.5h2M354 400.5h6M361 400.5h2M367 400.5h1M63 401.5h1M65 401.5h1M70 401.5h3M74 401.5h1M76 401.5h39M116 401.5h3M121 401.5h6M168 401.5h1M182 401.5h1M191 401.5h1M277 401.5h1M281 401.5h3M285 401.5h5M293 401.5h2M296 401.5h28M325 401.5h1M327 401.5h1M329 401.5h1M333 401.5h1M342 401.5h1M350 401.5h2M354 401.5h2M357 401.5h1M359 401.5h1M361 401.5h1M63 402.5h1M65 402.5h9M75 402.5h47M123 402.5h1M126 402.5h1M152 402.5h1M277 402.5h1M281 402.5h1M285 402.5h1M287 402.5h1M289 402.5h1M291 402.5h1M294 402.5h1M296 402.5h24M321 402.5h4M326 402.5h4M342 402.5h1M344 402.5h1M347 402.5h1M352 402.5h1M354 402.5h2M358 402.5h3M363 402.5h1M384 402.5h1M64 403.5h1M66 403.5h2M69 403.5h7M77 403.5h9M87 403.5h27M115 403.5h2M119 403.5h3M123 403.5h3M127 403.5h2M130 403.5h1M132 403.5h1M141 403.5h1M164 403.5h1M279 403.5h3M284 403.5h1M286 403.5h3M292 403.5h3M296 403.5h26M323 403.5h2M326 403.5h1M331 403.5h1M335 403.5h1M343 403.5h1M350 403.5h6M357 403.5h2M361 403.5h1M363 403.5h4M63 404.5h1M65 404.5h1M67 404.5h2M70 404.5h53M131 404.5h1M133 404.5h1M144 404.5h1M184 404.5h1M277 404.5h1M281 404.5h2M287 404.5h1M289 404.5h4M294 404.5h18M314 404.5h4M320 404.5h7M329 404.5h1M344 404.5h1M354 404.5h6M361 404.5h1M63 405.5h1M65 405.5h2M68 405.5h1M70 405.5h2M74 405.5h46M122 405.5h3M126 405.5h2M130 405.5h1M134 405.5h1M137 405.5h1M278 405.5h1M281 405.5h1M286 405.5h2M290 405.5h1M292 405.5h1M294 405.5h2M297 405.5h2M301 405.5h20M322 405.5h5M328 405.5h2M334 405.5h3M341 405.5h1M347 405.5h1M352 405.5h1M354 405.5h1M356 405.5h3M360 405.5h2M363 405.5h2M63 406.5h1M68 406.5h4M73 406.5h2M76 406.5h44M122 406.5h2M125 406.5h2M131 406.5h1M139 406.5h1M284 406.5h1M286 406.5h2M290 406.5h2M293 406.5h5M300 406.5h18M319 406.5h2M322 406.5h2M326 406.5h2M330 406.5h2M336 406.5h1M344 406.5h1M349 406.5h1M356 406.5h2M359 406.5h1M361 406.5h1M366 406.5h1M63 407.5h5M69 407.5h3M73 407.5h45M120 407.5h2M123 407.5h1M130 407.5h1M134 407.5h1M138 407.5h1M190 407.5h1M279 407.5h2M283 407.5h2M288 407.5h2M291 407.5h1M293 407.5h3M297 407.5h1M300 407.5h3M304 407.5h5M310 407.5h15M330 407.5h1M334 407.5h1M337 407.5h1M341 407.5h1M347 407.5h1M352 407.5h2M355 407.5h3M361 407.5h1M364 407.5h1M366 407.5h1M63 408.5h2M67 408.5h6M74 408.5h2M77 408.5h38M116 408.5h5M122 408.5h1M124 408.5h1M126 408.5h1M131 408.5h1M134 408.5h1M148 408.5h1M180 408.5h1M277 408.5h1M284 408.5h1M287 408.5h4M292 408.5h2M295 408.5h2M298 408.5h1M300 408.5h1M302 408.5h1M304 408.5h3M308 408.5h1M310 408.5h1M312 408.5h7M321 408.5h1M323 408.5h1M325 408.5h3M329 408.5h1M331 408.5h1M335 408.5h1M347 408.5h1M349 408.5h1M351 408.5h2M354 408.5h5M360 408.5h2M363 408.5h2M64 409.5h1M66 409.5h1M68 409.5h50M119 409.5h2M123 409.5h1M163 409.5h1M278 409.5h1M284 409.5h3M290 409.5h1M294 409.5h1M296 409.5h1M298 409.5h4M303 409.5h2M308 409.5h6M316 409.5h6M324 409.5h1M329 409.5h1M331 409.5h1M340 409.5h1M347 409.5h2M350 409.5h4M359 409.5h1M361 409.5h2M366 409.5h1M65 410.5h4M70 410.5h4M75 410.5h2M78 410.5h42M122 410.5h2M127 410.5h1M131 410.5h1M179 410.5h1M277 410.5h1M280 410.5h1M283 410.5h6M290 410.5h1M292 410.5h2M296 410.5h3M300 410.5h2M303 410.5h6M310 410.5h1M313 410.5h4M318 410.5h3M323 410.5h2M329 410.5h1M331 410.5h1M333 410.5h2M349 410.5h1M351 410.5h4M358 410.5h2M361 410.5h1M364 410.5h2M64 411.5h1M67 411.5h2M71 411.5h2M74 411.5h43M119 411.5h1M121 411.5h1M123 411.5h1M132 411.5h1M134 411.5h1M140 411.5h1M155 411.5h1M279 411.5h5M285 411.5h1M287 411.5h1M289 411.5h1M291 411.5h6M298 411.5h1M304 411.5h1M307 411.5h2M312 411.5h2M318 411.5h1M320 411.5h1M324 411.5h2M328 411.5h2M337 411.5h1M339 411.5h1M346 411.5h2M350 411.5h2M353 411.5h4M358 411.5h1M361 411.5h2M66 412.5h2M69 412.5h1M72 412.5h7M80 412.5h34M115 412.5h6M123 412.5h1M126 412.5h1M128 412.5h1M132 412.5h1M174 412.5h1M283 412.5h1M286 412.5h3M292 412.5h1M294 412.5h1M297 412.5h2M303 412.5h3M307 412.5h6M317 412.5h4M325 412.5h1M328 412.5h3M342 412.5h1M349 412.5h2M352 412.5h2M355 412.5h3M359 412.5h1M361 412.5h1M364 412.5h1M367 412.5h1M65 413.5h1M67 413.5h3M71 413.5h2M74 413.5h49M125 413.5h1M129 413.5h1M140 413.5h1M161 413.5h1M277 413.5h1M279 413.5h1M283 413.5h2M287 413.5h1M289 413.5h1M294 413.5h1M297 413.5h1M299 413.5h2M302 413.5h3M309 413.5h11M321 413.5h4M327 413.5h1M334 413.5h2M342 413.5h1M345 413.5h2M350 413.5h1M354 413.5h2M359 413.5h2M362 413.5h2M374 413.5h1M65 414.5h1M68 414.5h4M73 414.5h10M84 414.5h34M124 414.5h1M277 414.5h1M280 414.5h1M284 414.5h1M287 414.5h1M290 414.5h2M294 414.5h1M297 414.5h1M299 414.5h2M302 414.5h1M304 414.5h1M308 414.5h1M311 414.5h4M316 414.5h2M320 414.5h2M324 414.5h5M345 414.5h1M350 414.5h1M353 414.5h1M355 414.5h4M361 414.5h1M364 414.5h1M371 414.5h1M63 415.5h1M67 415.5h1M69 415.5h3M75 415.5h5M81 415.5h42M126 415.5h1M131 415.5h1M174 415.5h1M278 415.5h1M281 415.5h1M286 415.5h1M293 415.5h2M296 415.5h1M298 415.5h2M301 415.5h1M303 415.5h1M306 415.5h1M308 415.5h4M314 415.5h3M320 415.5h4M327 415.5h1M329 415.5h1M331 415.5h1M333 415.5h2M337 415.5h1M341 415.5h1M354 415.5h1M357 415.5h2M361 415.5h3M367 415.5h1M63 416.5h1M65 416.5h1M68 416.5h9M79 416.5h39M119 416.5h1M122 416.5h1M124 416.5h1M128 416.5h1M278 416.5h2M292 416.5h1M294 416.5h2M301 416.5h1M304 416.5h1M306 416.5h3M311 416.5h5M320 416.5h5M326 416.5h3M331 416.5h1M340 416.5h1M348 416.5h2M353 416.5h1M355 416.5h2M359 416.5h1M361 416.5h1M364 416.5h1M63 417.5h1M67 417.5h2M70 417.5h2M74 417.5h1M76 417.5h2M79 417.5h35M116 417.5h2M119 417.5h1M121 417.5h1M123 417.5h1M280 417.5h2M284 417.5h5M290 417.5h1M296 417.5h3M300 417.5h3M306 417.5h2M309 417.5h3M313 417.5h2M316 417.5h1M323 417.5h1M325 417.5h4M333 417.5h1M339 417.5h1M345 417.5h1M350 417.5h2M353 417.5h4M358 417.5h1M362 417.5h1M364 417.5h2M371 417.5h1M63 418.5h1M67 418.5h2M70 418.5h1M72 418.5h3M76 418.5h39M116 418.5h3M121 418.5h4M142 418.5h1M277 418.5h1M279 418.5h1M283 418.5h2M289 418.5h1M291 418.5h1M294 418.5h2M297 418.5h1M300 418.5h1M304 418.5h1M306 418.5h2M310 418.5h1M314 418.5h1M321 418.5h1M326 418.5h1M329 418.5h2M332 418.5h1M337 418.5h1M347 418.5h1M349 418.5h1M354 418.5h5M64 419.5h1M66 419.5h2M71 419.5h1M73 419.5h10M84 419.5h31M116 419.5h1M119 419.5h3M125 419.5h1M130 419.5h1M202 419.5h1M280 419.5h1M285 419.5h2M288 419.5h1M291 419.5h2M295 419.5h1M297 419.5h1M299 419.5h1M301 419.5h1M303 419.5h1M307 419.5h1M310 419.5h2M313 419.5h1M315 419.5h4M322 419.5h1M327 419.5h1M332 419.5h2M344 419.5h1M350 419.5h1M352 419.5h1M356 419.5h1M358 419.5h1M360 419.5h3M365 419.5h1M368 419.5h1M64 420.5h2M70 420.5h2M73 420.5h37M111 420.5h1M113 420.5h9M127 420.5h1M130 420.5h1M158 420.5h1M278 420.5h1M283 420.5h1M287 420.5h2M291 420.5h1M293 420.5h1M295 420.5h1M299 420.5h1M301 420.5h2M309 420.5h1M315 420.5h1M317 420.5h1M322 420.5h1M324 420.5h1M327 420.5h1M353 420.5h3M357 420.5h1M362 420.5h1M364 420.5h2M63 421.5h1M65 421.5h4M72 421.5h46M119 421.5h2M122 421.5h1M125 421.5h1M127 421.5h2M143 421.5h1M279 421.5h1M282 421.5h1M286 421.5h1M291 421.5h1M294 421.5h2M297 421.5h2M300 421.5h1M302 421.5h1M306 421.5h1M310 421.5h1M313 421.5h4M318 421.5h2M325 421.5h1M328 421.5h4M341 421.5h1M350 421.5h1M352 421.5h3M356 421.5h1M358 421.5h3M362 421.5h2M64 422.5h1M66 422.5h1M69 422.5h2M75 422.5h3M79 422.5h5M85 422.5h37M126 422.5h1M133 422.5h1M277 422.5h1M290 422.5h2M293 422.5h1M296 422.5h1M298 422.5h1M300 422.5h1M305 422.5h3M318 422.5h2M347 422.5h1M350 422.5h1M356 422.5h3M360 422.5h1M364 422.5h1M367 422.5h1M64 423.5h1M66 423.5h2M69 423.5h4M74 423.5h2M77 423.5h1M79 423.5h12M92 423.5h6M99 423.5h10M110 423.5h1M113 423.5h3M117 423.5h1M119 423.5h1M122 423.5h1M185 423.5h1M284 423.5h1M293 423.5h1M296 423.5h1M298 423.5h1M305 423.5h3M312 423.5h1M316 423.5h1M318 423.5h1M320 423.5h1M324 423.5h2M327 423.5h1M342 423.5h1M346 423.5h1M353 423.5h1M355 423.5h2M362 423.5h3M368 423.5h1M65 424.5h1M70 424.5h1M72 424.5h1M75 424.5h2M78 424.5h21M100 424.5h11M113 424.5h1M115 424.5h3M119 424.5h4M124 424.5h2M129 424.5h1M151 424.5h2M278 424.5h2M282 424.5h1M285 424.5h1M289 424.5h1M295 424.5h1M306 424.5h1M313 424.5h1M333 424.5h1M347 424.5h1M350 424.5h1M352 424.5h3M358 424.5h2M362 424.5h1M364 424.5h1M67 425.5h1M69 425.5h1M72 425.5h1M75 425.5h2M79 425.5h27M107 425.5h3M111 425.5h7M119 425.5h4M127 425.5h1M133 425.5h2M160 425.5h1M278 425.5h1M286 425.5h1M296 425.5h1M300 425.5h1M303 425.5h1M305 425.5h1M307 425.5h5M313 425.5h3M317 425.5h1M324 425.5h1M342 425.5h1M344 425.5h2M348 425.5h1M352 425.5h7M360 425.5h2M363 425.5h1M365 425.5h1M370 425.5h1M66 426.5h3M70 426.5h5M76 426.5h1M78 426.5h16M95 426.5h6M102 426.5h4M107 426.5h9M117 426.5h1M125 426.5h1M127 426.5h1M131 426.5h1M137 426.5h1M140 426.5h1M277 426.5h1M294 426.5h1M298 426.5h1M300 426.5h1M304 426.5h2M313 426.5h3M323 426.5h1M326 426.5h1M331 426.5h1M334 426.5h1M354 426.5h3M363 426.5h2M63 427.5h1M65 427.5h1M68 427.5h1M71 427.5h1M73 427.5h2M76 427.5h1M80 427.5h28M109 427.5h6M116 427.5h1M122 427.5h1M124 427.5h1M129 427.5h1M285 427.5h1M287 427.5h1M291 427.5h1M293 427.5h1M295 427.5h1M311 427.5h2M318 427.5h1M350 427.5h5M357 427.5h1M359 427.5h2M366 427.5h1M71 428.5h9M81 428.5h9M91 428.5h16M108 428.5h4M113 428.5h2M116 428.5h2M119 428.5h1M122 428.5h1M124 428.5h1M277 428.5h1M281 428.5h2M287 428.5h1M289 428.5h1M305 428.5h1M307 428.5h1M309 428.5h2M312 428.5h1M330 428.5h1M333 428.5h1M349 428.5h1M351 428.5h8M360 428.5h1M363 428.5h1M365 428.5h2M68 429.5h3M72 429.5h4M78 429.5h1M80 429.5h4M85 429.5h26M112 429.5h1M115 429.5h2M120 429.5h1M129 429.5h1M132 429.5h1M135 429.5h1M285 429.5h1M287 429.5h1M298 429.5h1M300 429.5h1M302 429.5h2M316 429.5h1M323 429.5h2M330 429.5h1M332 429.5h1M337 429.5h1M350 429.5h1M352 429.5h1M355 429.5h4M365 429.5h1M63 430.5h2M66 430.5h1M69 430.5h2M72 430.5h1M74 430.5h3M81 430.5h6M88 430.5h1M90 430.5h11M102 430.5h2M105 430.5h2M108 430.5h5M115 430.5h1M117 430.5h1M119 430.5h2M123 430.5h1M129 430.5h1M158 430.5h1M284 430.5h1M292 430.5h1M297 430.5h1M299 430.5h1M308 430.5h1M347 430.5h1M352 430.5h2M355 430.5h1M357 430.5h2M361 430.5h3M365 430.5h1M370 430.5h1M67 431.5h5M76 431.5h2M79 431.5h7M88 431.5h1M90 431.5h7M98 431.5h10M109 431.5h1M111 431.5h9M121 431.5h1M123 431.5h1M127 431.5h1M277 431.5h1M280 431.5h1M291 431.5h1M298 431.5h1M309 431.5h1M314 431.5h1M323 431.5h1M347 431.5h1M351 431.5h2M354 431.5h2M357 431.5h1M360 431.5h1M72 432.5h1M74 432.5h1M78 432.5h6M85 432.5h1M87 432.5h1M89 432.5h15M105 432.5h3M109 432.5h2M112 432.5h1M117 432.5h1M122 432.5h1M145 432.5h1M294 432.5h1M302 432.5h1M305 432.5h2M318 432.5h1M349 432.5h4M357 432.5h1M359 432.5h2M363 432.5h2M369 432.5h1M68 433.5h2M71 433.5h4M77 433.5h2M82 433.5h2M85 433.5h4M90 433.5h1M92 433.5h9M102 433.5h4M110 433.5h1M112 433.5h3M116 433.5h1M118 433.5h1M124 433.5h1M133 433.5h1M183 433.5h1M194 433.5h1M277 433.5h1M298 433.5h1M305 433.5h1M307 433.5h1M315 433.5h1M317 433.5h1M346 433.5h1M353 433.5h1M356 433.5h6M363 433.5h2M393 433.5h1M66 434.5h1M72 434.5h1M74 434.5h4M82 434.5h7M90 434.5h2M94 434.5h3M98 434.5h8M107 434.5h3M111 434.5h3M115 434.5h1M117 434.5h1M119 434.5h1M122 434.5h1M286 434.5h1M291 434.5h1M319 434.5h1M325 434.5h1M355 434.5h3M359 434.5h1M365 434.5h1M74 435.5h1M76 435.5h1M78 435.5h2M81 435.5h1M83 435.5h3M87 435.5h1M89 435.5h3M94 435.5h7M102 435.5h2M106 435.5h3M110 435.5h1M113 435.5h4M119 435.5h1M125 435.5h2M143 435.5h1M293 435.5h1M307 435.5h1M314 435.5h1M319 435.5h2M328 435.5h2M348 435.5h3M353 435.5h3M357 435.5h1M359 435.5h4M364 435.5h1M367 435.5h1M68 436.5h1M78 436.5h2M81 436.5h4M86 436.5h7M94 436.5h1M96 436.5h1M98 436.5h4M103 436.5h4M108 436.5h5M114 436.5h4M119 436.5h1M125 436.5h1M139 436.5h1M164 436.5h1M68 437.5h1M76 437.5h1M80 437.5h3M84 437.5h4M89 437.5h2M92 437.5h3M96 437.5h4M101 437.5h1M103 437.5h4M108 437.5h2M111 437.5h3M115 437.5h2M148 437.5h1" stroke="#000" stroke-width="1" fill="none" shape-rendering="crispEdges"/>
<rect x="65.5" y="51.5" width="141.0" height="141.0" fill="none" stroke="#111" stroke-width="1.2"/>
<rect x="370.5" y="39.5" width="142.0" height="140.0" fill="none" stroke="#111" stroke-width="1.2"/>
<rect x="62.5" y="297.2" width="141.0" height="141.3" fill="none" stroke="#111" stroke-width="1.2"/>
<rect x="276.5" y="294.5" width="141.0" height="142.0" fill="none" stroke="#111" stroke-width="1.2"/>
<path d="M65.5 192.5v2.5M65.5 192.5h-2.5M90.1 192.5v1.5M65.5 167.9h-1.5M100.8 192.5v2.5M65.5 157.2h-2.5M125.4 192.5v1.5M65.5 132.6h-1.5M136.0 192.5v2.5M65.5 122.0h-2.5M160.6 192.5v1.5M65.5 97.4h-1.5M171.2 192.5v2.5M65.5 86.8h-2.5M195.9 192.5v1.5M65.5 62.1h-1.5M206.5 192.5v2.5M65.5 51.5h-2.5" stroke="#111" stroke-width="1" fill="none"/>
<path d="M370.5 179.5v3.5M370.5 179.5h-3.5M381.2 179.5v2M370.5 169.0h-2M387.4 179.5v2M370.5 162.8h-2M391.9 179.5v2M370.5 158.4h-2M395.3 179.5v2M370.5 155.0h-2M398.1 179.5v2M370.5 152.3h-2M400.5 179.5v2M370.5 149.9h-2M402.6 179.5v2M370.5 147.9h-2M404.4 179.5v2M370.5 146.1h-2M406.0 179.5v3.5M370.5 144.5h-3.5M416.7 179.5v2M370.5 134.0h-2M422.9 179.5v2M370.5 127.8h-2M427.4 179.5v2M370.5 123.4h-2M430.8 179.5v2M370.5 120.0h-2M433.6 179.5v2M370.5 117.3h-2M436.0 179.5v2M370.5 114.9h-2M438.1 179.5v2M370.5 112.9h-2M439.9 179.5v2M370.5 111.1h-2M441.5 179.5v3.5M370.5 109.5h-3.5M452.2 179.5v2M370.5 99.0h-2M458.4 179.5v2M370.5 92.8h-2M462.9 179.5v2M370.5 88.4h-2M466.3 179.5v2M370.5 85.0h-2M469.1 179.5v2M370.5 82.3h-2M471.5 179.5v2M370.5 79.9h-2M473.6 179.5v2M370.5 77.9h-2M475.4 179.5v2M370.5 76.1h-2M477.0 179.5v3.5M370.5 74.5h-3.5M487.7 179.5v2M370.5 64.0h-2M493.9 179.5v2M370.5 57.8h-2M498.4 179.5v2M370.5 53.4h-2M501.8 179.5v2M370.5 50.0h-2M504.6 179.5v2M370.5 47.3h-2M507.0 179.5v2M370.5 44.9h-2M509.1 179.5v2M370.5 42.9h-2M510.9 179.5v2M370.5 41.1h-2M512.5 179.5v3.5M370.5 39.5h-3.5" stroke="#111" stroke-width="1" fill="none"/>
<path d="M62.5 438.5v4.3M62.5 438.5h-4.3M73.1 438.5v2M62.5 427.9h-2M79.3 438.5v2M62.5 421.6h-2M83.7 438.5v2M62.5 417.2h-2M87.1 438.5v2M62.5 413.8h-2M89.9 438.5v2M62.5 411.0h-2M92.3 438.5v2M62.5 408.6h-2M94.3 438.5v2M62.5 406.6h-2M96.1 438.5v2M62.5 404.8h-2M97.8 438.5v4.3M62.5 403.2h-4.3M108.4 438.5v2M62.5 392.5h-2M114.6 438.5v2M62.5 386.3h-2M119.0 438.5v2M62.5 381.9h-2M122.4 438.5v2M62.5 378.5h-2M125.2 438.5v2M62.5 375.7h-2M127.5 438.5v2M62.5 373.3h-2M129.6 438.5v2M62.5 371.3h-2M131.4 438.5v2M62.5 369.5h-2M133.0 438.5v4.3M62.5 367.9h-4.3M143.6 438.5v2M62.5 357.2h-2M149.8 438.5v2M62.5 351.0h-2M154.2 438.5v2M62.5 346.6h-2M157.6 438.5v2M62.5 343.2h-2M160.4 438.5v2M62.5 340.4h-2M162.8 438.5v2M62.5 338.0h-2M164.8 438.5v2M62.5 335.9h-2M166.6 438.5v2M62.5 334.1h-2M168.2 438.5v4.3M62.5 332.5h-4.3M178.9 438.5v2M62.5 321.9h-2M185.1 438.5v2M62.5 315.7h-2M189.5 438.5v2M62.5 311.3h-2M192.9 438.5v2M62.5 307.8h-2M195.7 438.5v2M62.5 305.0h-2M198.0 438.5v2M62.5 302.7h-2M200.1 438.5v2M62.5 300.6h-2M201.9 438.5v2M62.5 298.8h-2M203.5 438.5v4.3M62.5 297.2h-4.3" stroke="#111" stroke-width="1" fill="none"/>
<path d="M276.5 436.5v4.3M276.5 436.5h-4.3M287.1 436.5v2M276.5 425.8h-2M293.3 436.5v2M276.5 419.6h-2M297.7 436.5v2M276.5 415.1h-2M301.1 436.5v2M276.5 411.7h-2M303.9 436.5v2M276.5 408.9h-2M306.3 436.5v2M276.5 406.5h-2M308.3 436.5v2M276.5 404.4h-2M310.1 436.5v2M276.5 402.6h-2M311.8 436.5v4.3M276.5 401.0h-4.3M322.4 436.5v2M276.5 390.3h-2M328.6 436.5v2M276.5 384.1h-2M333.0 436.5v2M276.5 379.6h-2M336.4 436.5v2M276.5 376.2h-2M339.2 436.5v2M276.5 373.4h-2M341.5 436.5v2M276.5 371.0h-2M343.6 436.5v2M276.5 368.9h-2M345.4 436.5v2M276.5 367.1h-2M347.0 436.5v4.3M276.5 365.5h-4.3M357.6 436.5v2M276.5 354.8h-2M363.8 436.5v2M276.5 348.6h-2M368.2 436.5v2M276.5 344.1h-2M371.6 436.5v2M276.5 340.7h-2M374.4 436.5v2M276.5 337.9h-2M376.8 436.5v2M276.5 335.5h-2M378.8 436.5v2M276.5 333.4h-2M380.6 436.5v2M276.5 331.6h-2M382.2 436.5v4.3M276.5 330.0h-4.3M392.9 436.5v2M276.5 319.3h-2M399.1 436.5v2M276.5 313.1h-2M403.5 436.5v2M276.5 308.6h-2M406.9 436.5v2M276.5 305.2h-2M409.7 436.5v2M276.5 302.4h-2M412.0 436.5v2M276.5 300.0h-2M414.1 436.5v2M276.5 297.9h-2M415.9 436.5v2M276.5 296.1h-2M417.5 436.5v4.3M276.5 294.5h-4.3" stroke="#111" stroke-width="1" fill="none"/>
<g fill="none" stroke="#555" stroke-width="1">
<rect x="87.5" y="64.5" width="38" height="44"/>
<rect x="137.5" y="76.5" width="39" height="48"/>
</g>
<path d="M409.5 39.5V179.5M370.5 147.5H512.5" stroke="#111" stroke-width="1.2" fill="none"/>
<rect x="63.4" y="404.5" width="34.6" height="35.3" fill="none" stroke="#d0d0d0" stroke-width="1.3"/>
<g fill="none" stroke="#111" stroke-width="1">
<rect x="343.5" y="316" width="29.5" height="10"/>
<rect x="341.5" y="379.5" width="33" height="25"/>
<rect x="340.5" y="411.5" width="34" height="22.8"/>
</g>
<rect x="98.5" y="82.5" width="14.5" height="8" fill="#fff" stroke="#222" stroke-width="0.8"/>
<text x="105.8" y="89.3" font-size="6.5" font-weight="normal" text-anchor="middle" fill="#000" >25.8</text>
<rect x="148.5" y="97.5" width="14.5" height="8" fill="#fff" stroke="#222" stroke-width="0.8"/>
<text x="155.8" y="104.3" font-size="6.5" font-weight="normal" text-anchor="middle" fill="#000" >54.9</text>
<path d="M94 78L60.83 50.62" stroke="#111" stroke-width="1.2"/>
<path d="M56.2 46.8L62.61 48.46L59.04 52.78Z" fill="#111"/>
<path d="M163 84L213.90 67.36" stroke="#111" stroke-width="1.2"/>
<path d="M219.6 65.5L214.74 69.93L213.06 64.80Z" fill="#111"/>
<path d="M372 318L388.55 315.96" stroke="#111" stroke-width="1.2"/>
<path d="M395.5 315.1L388.92 318.93L388.19 312.98Z" fill="#111"/>
<path d="M355 389L388.54 385.27" stroke="#111" stroke-width="1.2"/>
<path d="M395.5 384.5L388.87 388.25L388.21 382.29Z" fill="#111"/>
<path d="M357 424L388.56 419.98" stroke="#111" stroke-width="1.2"/>
<path d="M395.5 419.1L388.93 422.96L388.18 417.01Z" fill="#111"/>
<path d="M85.12 407.93L83.00 406.62L81.10 405.06L79.43 403.29L78.02 401.36L76.87 399.30L76.01 397.16L75.45 394.96L75.17 392.74L75.16 390.51L75.39 388.26L75.83 386.02L76.46 383.78L77.25 381.57L78.19 379.38L79.24 377.23L80.38 375.14L81.58 373.09L82.84 371.09L84.14 369.11L85.45 367.15L86.76 365.21L88.05 363.26L89.34 361.32L90.65 359.40L92.00 357.50L93.41 355.66L94.88 353.87L96.43 352.13L98.04 350.44L99.71 348.81L101.44 347.23L103.22 345.70L105.05 344.22L106.92 342.79L108.82 341.41L110.76 340.08L112.73 338.80L114.72 337.56L116.73 336.36L118.76 335.19L120.80 334.04L122.85 332.91L124.91 331.78L126.97 330.65L129.03 329.52L131.08 328.38L133.13 327.21L135.18 326.03L137.22 324.86L139.27 323.70L141.33 322.56L143.40 321.47L145.49 320.43L147.60 319.45L149.74 318.54L151.90 317.69L154.09 316.90L156.29 316.17L158.52 315.49L160.76 314.85L163.02 314.26L165.30 313.71L167.59 313.19L169.90 312.70L172.22 312.23L174.55 311.80L176.89 311.40L179.24 311.04L181.59 310.73L183.94 310.46L186.30 310.23L188.65 310.07L191.00 309.96L193.35 309.91L195.69 309.92L198.02 310.01L200.35 310.17L202.66 310.40L204.95 310.72L207.23 311.12L209.49 311.61L211.73 312.19L213.95 312.87L216.15 313.65L218.32 314.53L220.46 315.52L222.58 316.62L224.66 317.84L226.71 319.17L244.2 307.2L232.1 329.5L200.4 334.1L217.77 323.80L215.98 322.44L214.12 321.25L212.20 320.21L210.23 319.31L208.22 318.53L206.17 317.88L204.08 317.34L201.97 316.89L199.83 316.54L197.68 316.26L195.51 316.05L193.34 315.90L191.17 315.81L188.99 315.78L186.82 315.80L184.64 315.87L182.47 315.99L180.30 316.17L178.13 316.40L175.97 316.68L173.81 317.01L171.66 317.40L169.53 317.83L167.40 318.30L165.28 318.83L163.17 319.40L161.08 320.02L159.01 320.69L156.95 321.40L154.90 322.15L152.88 322.94L150.87 323.78L148.89 324.66L146.93 325.59L144.99 326.55L143.07 327.54L141.16 328.56L139.26 329.59L137.36 330.63L135.46 331.67L133.55 332.69L131.63 333.69L129.68 334.66L127.72 335.62L125.77 336.58L123.83 337.56L121.91 338.59L120.02 339.68L118.18 340.83L116.37 342.04L114.59 343.30L112.85 344.60L111.13 345.95L109.45 347.34L107.80 348.75L106.18 350.20L104.58 351.66L103.01 353.16L101.47 354.68L99.96 356.23L98.48 357.81L97.02 359.42L95.59 361.06L94.19 362.73L92.82 364.43L91.48 366.17L90.18 367.93L88.94 369.74L87.78 371.58L86.72 373.46L85.78 375.38L84.97 377.35L84.32 379.36L83.84 381.42L83.56 383.54L83.48 385.70L83.64 387.92L84.01 390.15L84.56 392.35L85.27 394.48L86.12 396.48L87.10 398.32L88.34 400.01L89.98 401.57L91.34 403.07L90.94 404.60L89.07 406.04L86.90 407.20L85.04 407.71Z" fill="#7f7f7f" stroke="#1a1a1a" stroke-width="1.2" stroke-linejoin="miter"/>
<text x="0.6" y="17.7" font-size="25.5" font-weight="bold" text-anchor="start" fill="#000" >A</text>
<text x="-0.3" y="277.8" font-size="25" font-weight="bold" text-anchor="start" fill="#000" >B</text>
<text x="321.3" y="19.2" font-size="25" font-weight="bold" text-anchor="start" fill="#000" >C</text>
<text x="0.2" y="42.8" font-size="12.9" font-weight="normal" text-anchor="start" fill="#000" stroke="#000" stroke-width="0.35">CD34<tspan font-size="7.5" dy="-4.5">+</tspan><tspan dy="4.5">CD1a</tspan><tspan font-size="7.6" dy="-4.3" font-weight="bold" stroke-width="0">neg</tspan></text>
<text x="221.3" y="62" font-size="12.9" font-weight="normal" text-anchor="start" fill="#000" stroke="#000" stroke-width="0.35">CD34<tspan font-size="7.5" dy="-4.5">+</tspan><tspan dy="4.5">CD1a</tspan><tspan font-size="7.5" dy="-4.5">+</tspan></text>
<text transform="translate(34.3 131.8) rotate(-90)" font-size="12.7" font-weight="bold" text-anchor="middle">CD34 PE</text>
<text x="120.6" y="231.6" font-size="12.9" font-weight="bold" text-anchor="middle" fill="#000" >CD1a FITC</text>
<text transform="translate(336.2 102.5) rotate(-90)" font-size="12.8" font-weight="bold" text-anchor="middle">CD45PE</text>
<text x="443.9" y="221.7" font-size="12.3" font-weight="bold" text-anchor="middle" fill="#000" >CD10 PE-CY7</text>
<text transform="translate(33 361.6) rotate(-90)" font-size="12.6" font-weight="bold" text-anchor="middle">LIN APC</text>
<text x="113.6" y="474.7" font-size="13" font-weight="bold" text-anchor="middle" fill="#000" >LIN FITC</text>
<text transform="translate(249 365.5) rotate(-90)" font-size="12.7" font-weight="bold" text-anchor="middle">CD7 FITC</text>
<text x="325.7" y="475.2" font-size="12.9" font-weight="bold" text-anchor="middle" fill="#000" >CD34 APC</text>
<text x="403.5" y="316" font-size="12.5" font-weight="bold" text-anchor="start" fill="#000" >CD34<tspan font-size="8" dy="-4.5">+</tspan><tspan dy="4.5">lin</tspan><tspan font-size="8" dy="-4.5">-</tspan><tspan dy="4.5">CD7</tspan><tspan font-size="8" dy="-4.5">hi</tspan></text>
<text x="488" y="331.8" font-size="12" font-weight="normal" text-anchor="end" fill="#222" >10.2%</text>
<text x="401.5" y="381.6" font-size="12.5" font-weight="bold" text-anchor="start" fill="#000" >CD34<tspan font-size="8" dy="-4.5">+</tspan><tspan dy="4.5">lin</tspan><tspan font-size="8" dy="-4.5">-</tspan><tspan dy="4.5">CD7</tspan><tspan font-size="8" dy="-4.5">int</tspan></text>
<text x="487" y="394" font-size="12" font-weight="normal" text-anchor="end" fill="#222" >0.8%</text>
<text x="401.5" y="421.2" font-size="12.5" font-weight="bold" text-anchor="start" fill="#000" >CD34<tspan font-size="8" dy="-4.5">+</tspan><tspan dy="4.5">lin</tspan><tspan font-size="8" dy="-4.5">-</tspan><tspan dy="4.5">CD7</tspan><tspan font-size="8" dy="-4.5">neg</tspan></text>
<text x="488" y="433.5" font-size="12" font-weight="normal" text-anchor="end" fill="#222" >0.2%</text>
<text x="372.3" y="56.7" font-size="12.8" font-weight="normal" text-anchor="start" fill="#222" >25.8</text>
<text x="504" y="56.5" font-size="12.8" font-weight="normal" text-anchor="end" fill="#222" >70.7</text>
<text x="375.3" y="171.5" font-size="12.8" font-weight="normal" text-anchor="start" fill="#222" >3.3</text>
<text x="510.2" y="171.5" font-size="12.8" font-weight="normal" text-anchor="end" fill="#222" >0.3</text>
<text x="59.90" y="204.6" font-size="6" font-weight="bold" stroke="#000" stroke-width="0">10<tspan font-size="5" dx="0.6" dy="-2.6">0</tspan></text>
<text x="95.15" y="204.6" font-size="6" font-weight="bold" stroke="#000" stroke-width="0">10<tspan font-size="5" dx="0.6" dy="-2.6">1</tspan></text>
<text x="130.40" y="204.6" font-size="6" font-weight="bold" stroke="#000" stroke-width="0">10<tspan font-size="5" dx="0.6" dy="-2.6">2</tspan></text>
<text x="165.65" y="204.6" font-size="6" font-weight="bold" stroke="#000" stroke-width="0">10<tspan font-size="5" dx="0.6" dy="-2.6">3</tspan></text>
<text x="200.90" y="204.6" font-size="6" font-weight="bold" stroke="#000" stroke-width="0">10<tspan font-size="5" dx="0.6" dy="-2.6">4</tspan></text>
<text x="60.3" y="194.70" font-size="6" font-weight="bold" text-anchor="end">10<tspan font-size="5" dx="0.6" dy="-2.2">0</tspan></text>
<text x="60.3" y="159.45" font-size="6" font-weight="bold" text-anchor="end">10<tspan font-size="5" dx="0.6" dy="-2.2">1</tspan></text>
<text x="60.3" y="124.20" font-size="6" font-weight="bold" text-anchor="end">10<tspan font-size="5" dx="0.6" dy="-2.2">2</tspan></text>
<text x="60.3" y="88.95" font-size="6" font-weight="bold" text-anchor="end">10<tspan font-size="5" dx="0.6" dy="-2.2">3</tspan></text>
<text x="60.3" y="53.70" font-size="6" font-weight="bold" text-anchor="end">10<tspan font-size="5" dx="0.6" dy="-2.2">4</tspan></text>
<text x="363.30" y="194.2" font-size="9" font-weight="normal" stroke="#000" stroke-width="0.3">10<tspan font-size="6.3" dx="0.4" dy="-4">0</tspan></text>
<text x="398.80" y="194.2" font-size="9" font-weight="normal" stroke="#000" stroke-width="0.3">10<tspan font-size="6.3" dx="0.4" dy="-4">1</tspan></text>
<text x="434.30" y="194.2" font-size="9" font-weight="normal" stroke="#000" stroke-width="0.3">10<tspan font-size="6.3" dx="0.4" dy="-4">2</tspan></text>
<text x="469.80" y="194.2" font-size="9" font-weight="normal" stroke="#000" stroke-width="0.3">10<tspan font-size="6.3" dx="0.4" dy="-4">3</tspan></text>
<text x="505.30" y="194.2" font-size="9" font-weight="normal" stroke="#000" stroke-width="0.3">10<tspan font-size="6.3" dx="0.4" dy="-4">4</tspan></text>
<text transform="translate(363.9 180.30) rotate(-90)" font-size="9" font-weight="normal" text-anchor="middle" stroke="#000" stroke-width="0.3">10<tspan font-size="6.3" dx="1.6" dy="-4.3">0</tspan></text>
<text transform="translate(363.9 145.30) rotate(-90)" font-size="9" font-weight="normal" text-anchor="middle" stroke="#000" stroke-width="0.3">10<tspan font-size="6.3" dx="1.6" dy="-4.3">1</tspan></text>
<text transform="translate(363.9 110.30) rotate(-90)" font-size="9" font-weight="normal" text-anchor="middle" stroke="#000" stroke-width="0.3">10<tspan font-size="6.3" dx="1.6" dy="-4.3">2</tspan></text>
<text transform="translate(363.9 75.30) rotate(-90)" font-size="9" font-weight="normal" text-anchor="middle" stroke="#000" stroke-width="0.3">10<tspan font-size="6.3" dx="1.6" dy="-4.3">3</tspan></text>
<text transform="translate(363.9 40.30) rotate(-90)" font-size="9" font-weight="normal" text-anchor="middle" stroke="#000" stroke-width="0.3">10<tspan font-size="6.3" dx="1.6" dy="-4.3">4</tspan></text>
<text x="54.40" y="453" font-size="9" font-weight="normal" stroke="#000" stroke-width="0.3">10<tspan font-size="6.3" dx="0.2" dy="-4">0</tspan></text>
<text x="89.65" y="453" font-size="9" font-weight="normal" stroke="#000" stroke-width="0.3">10<tspan font-size="6.3" dx="0.2" dy="-4">1</tspan></text>
<text x="124.90" y="453" font-size="9" font-weight="normal" stroke="#000" stroke-width="0.3">10<tspan font-size="6.3" dx="0.2" dy="-4">2</tspan></text>
<text x="160.15" y="453" font-size="9" font-weight="normal" stroke="#000" stroke-width="0.3">10<tspan font-size="6.3" dx="0.2" dy="-4">3</tspan></text>
<text x="195.40" y="453" font-size="9" font-weight="normal" stroke="#000" stroke-width="0.3">10<tspan font-size="6.3" dx="0.2" dy="-4">4</tspan></text>
<text transform="translate(54.7 440.30) rotate(-90)" font-size="9" font-weight="normal" text-anchor="middle" stroke="#000" stroke-width="0.3">10<tspan font-size="6.3" dx="1.6" dy="-4.3">0</tspan></text>
<text transform="translate(54.7 404.98) rotate(-90)" font-size="9" font-weight="normal" text-anchor="middle" stroke="#000" stroke-width="0.3">10<tspan font-size="6.3" dx="1.6" dy="-4.3">1</tspan></text>
<text transform="translate(54.7 369.65) rotate(-90)" font-size="9" font-weight="normal" text-anchor="middle" stroke="#000" stroke-width="0.3">10<tspan font-size="6.3" dx="1.6" dy="-4.3">2</tspan></text>
<text transform="translate(54.7 334.32) rotate(-90)" font-size="9" font-weight="normal" text-anchor="middle" stroke="#000" stroke-width="0.3">10<tspan font-size="6.3" dx="1.6" dy="-4.3">3</tspan></text>
<text transform="translate(54.7 299.00) rotate(-90)" font-size="9" font-weight="normal" text-anchor="middle" stroke="#000" stroke-width="0.3">10<tspan font-size="6.3" dx="1.6" dy="-4.3">4</tspan></text>
<text x="269.60" y="450" font-size="9" font-weight="normal" stroke="#000" stroke-width="0.3">10<tspan font-size="6.3" dx="0.2" dy="-4">0</tspan></text>
<text x="304.85" y="450" font-size="9" font-weight="normal" stroke="#000" stroke-width="0.3">10<tspan font-size="6.3" dx="0.2" dy="-4">1</tspan></text>
<text x="340.10" y="450" font-size="9" font-weight="normal" stroke="#000" stroke-width="0.3">10<tspan font-size="6.3" dx="0.2" dy="-4">2</tspan></text>
<text x="375.35" y="450" font-size="9" font-weight="normal" stroke="#000" stroke-width="0.3">10<tspan font-size="6.3" dx="0.2" dy="-4">3</tspan></text>
<text x="410.60" y="450" font-size="9" font-weight="normal" stroke="#000" stroke-width="0.3">10<tspan font-size="6.3" dx="0.2" dy="-4">4</tspan></text>
<text transform="translate(269.5 438.50) rotate(-90)" font-size="9" font-weight="normal" text-anchor="middle" stroke="#000" stroke-width="0.3">10<tspan font-size="6.3" dx="1.6" dy="-4.3">0</tspan></text>
<text transform="translate(269.5 403.00) rotate(-90)" font-size="9" font-weight="normal" text-anchor="middle" stroke="#000" stroke-width="0.3">10<tspan font-size="6.3" dx="1.6" dy="-4.3">1</tspan></text>
<text transform="translate(269.5 367.50) rotate(-90)" font-size="9" font-weight="normal" text-anchor="middle" stroke="#000" stroke-width="0.3">10<tspan font-size="6.3" dx="1.6" dy="-4.3">2</tspan></text>
<text transform="translate(269.5 332.00) rotate(-90)" font-size="9" font-weight="normal" text-anchor="middle" stroke="#000" stroke-width="0.3">10<tspan font-size="6.3" dx="1.6" dy="-4.3">3</tspan></text>
<text transform="translate(269.5 296.50) rotate(-90)" font-size="9" font-weight="normal" text-anchor="middle" stroke="#000" stroke-width="0.3">10<tspan font-size="6.3" dx="1.6" dy="-4.3">4</tspan></text>
</svg></body></html>
